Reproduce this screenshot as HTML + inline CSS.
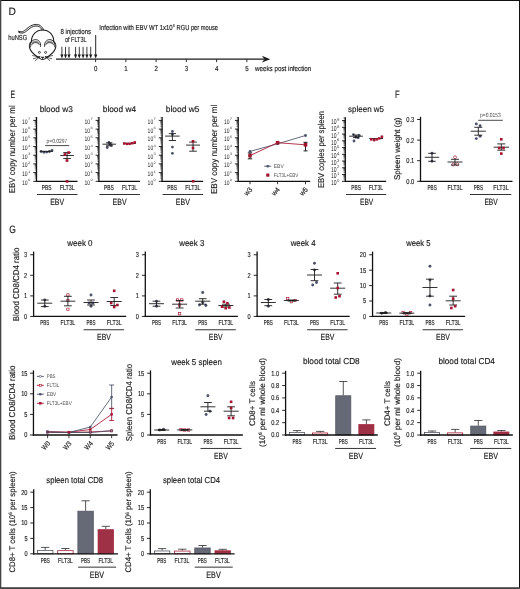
<!DOCTYPE html>
<html><head><meta charset="utf-8"><title>Figure</title>
<style>html,body{margin:0;padding:0;background:#fff}svg{display:block}text{font-family:'Liberation Sans', sans-serif;text-rendering:geometricPrecision}</style>
</head><body>
<svg width="520" height="589" viewBox="0 0 520 589">
<rect x="0" y="0" width="520" height="589" fill="#ffffff"/>
<rect x="0" y="0" width="520" height="1" fill="#111"/>
<rect x="519" y="0" width="1" height="589" fill="#111"/>
<rect x="0" y="0" width="1.3" height="589" fill="#444"/>
<rect x="0" y="587.2" width="520" height="1.8" fill="#444"/>
<text x="8.6" y="15" font-size="10.71" fill="#1c1c1c" stroke="#1c1c1c" stroke-width="0.16" textLength="7.4" lengthAdjust="spacingAndGlyphs">D</text>
<text x="10.6" y="98" font-size="10.71" fill="#1c1c1c" stroke="#1c1c1c" stroke-width="0.16" textLength="4.6" lengthAdjust="spacingAndGlyphs">E</text>
<text x="395" y="98" font-size="10.71" fill="#1c1c1c" stroke="#1c1c1c" stroke-width="0.16" textLength="4.6" lengthAdjust="spacingAndGlyphs">F</text>
<text x="9.2" y="233.2" font-size="10.71" fill="#1c1c1c" stroke="#1c1c1c" stroke-width="0.16" textLength="6.6" lengthAdjust="spacingAndGlyphs">G</text>
<line x1="56" y1="59.2" x2="264" y2="59.2" stroke="#1a1a1a" stroke-width="1.2" stroke-linecap="butt"/>
<path d="M270.2 59.2 L261.9 55.8 L264.4 59.2 L261.9 62.6 Z" fill="#1a1a1a"/>
<line x1="95.6" y1="59.2" x2="95.6" y2="62.1" stroke="#1a1a1a" stroke-width="0.9" stroke-linecap="butt"/>
<text x="93.9" y="70.9" font-size="7.28" fill="#1c1c1c" stroke="#1c1c1c" stroke-width="0.16" textLength="3.4" lengthAdjust="spacingAndGlyphs">0</text>
<line x1="125.85" y1="59.2" x2="125.85" y2="62.1" stroke="#1a1a1a" stroke-width="0.9" stroke-linecap="butt"/>
<text x="124.15" y="70.9" font-size="7.28" fill="#1c1c1c" stroke="#1c1c1c" stroke-width="0.16" textLength="3.4" lengthAdjust="spacingAndGlyphs">1</text>
<line x1="156.1" y1="59.2" x2="156.1" y2="62.1" stroke="#1a1a1a" stroke-width="0.9" stroke-linecap="butt"/>
<text x="154.4" y="70.9" font-size="7.28" fill="#1c1c1c" stroke="#1c1c1c" stroke-width="0.16" textLength="3.4" lengthAdjust="spacingAndGlyphs">2</text>
<line x1="186.35" y1="59.2" x2="186.35" y2="62.1" stroke="#1a1a1a" stroke-width="0.9" stroke-linecap="butt"/>
<text x="184.65" y="70.9" font-size="7.28" fill="#1c1c1c" stroke="#1c1c1c" stroke-width="0.16" textLength="3.4" lengthAdjust="spacingAndGlyphs">3</text>
<line x1="216.6" y1="59.2" x2="216.6" y2="62.1" stroke="#1a1a1a" stroke-width="0.9" stroke-linecap="butt"/>
<text x="214.9" y="70.9" font-size="7.28" fill="#1c1c1c" stroke="#1c1c1c" stroke-width="0.16" textLength="3.4" lengthAdjust="spacingAndGlyphs">4</text>
<line x1="246.85" y1="59.2" x2="246.85" y2="62.1" stroke="#1a1a1a" stroke-width="0.9" stroke-linecap="butt"/>
<text x="245.15" y="70.9" font-size="7.28" fill="#1c1c1c" stroke="#1c1c1c" stroke-width="0.16" textLength="3.4" lengthAdjust="spacingAndGlyphs">5</text>
<text x="255" y="70.8" font-size="7.28" fill="#1c1c1c" stroke="#1c1c1c" stroke-width="0.16" textLength="56.3" lengthAdjust="spacingAndGlyphs">weeks post infection</text>
<line x1="61.9" y1="46.8" x2="61.9" y2="55.1" stroke="#1a1a1a" stroke-width="0.85" stroke-linecap="butt"/>
<path d="M60.3 54.6 L63.5 54.6 L61.9 58.6 Z" fill="#1a1a1a"/>
<line x1="65.5" y1="46.8" x2="65.5" y2="55.1" stroke="#1a1a1a" stroke-width="0.85" stroke-linecap="butt"/>
<path d="M63.9 54.6 L67.1 54.6 L65.5 58.6 Z" fill="#1a1a1a"/>
<line x1="69" y1="46.8" x2="69" y2="55.1" stroke="#1a1a1a" stroke-width="0.85" stroke-linecap="butt"/>
<path d="M67.4 54.6 L70.6 54.6 L69 58.6 Z" fill="#1a1a1a"/>
<line x1="75.6" y1="46.8" x2="75.6" y2="55.1" stroke="#1a1a1a" stroke-width="0.85" stroke-linecap="butt"/>
<path d="M74 54.6 L77.2 54.6 L75.6 58.6 Z" fill="#1a1a1a"/>
<line x1="79.3" y1="46.8" x2="79.3" y2="55.1" stroke="#1a1a1a" stroke-width="0.85" stroke-linecap="butt"/>
<path d="M77.7 54.6 L80.9 54.6 L79.3 58.6 Z" fill="#1a1a1a"/>
<line x1="83.1" y1="46.8" x2="83.1" y2="55.1" stroke="#1a1a1a" stroke-width="0.85" stroke-linecap="butt"/>
<path d="M81.5 54.6 L84.7 54.6 L83.1 58.6 Z" fill="#1a1a1a"/>
<line x1="86.9" y1="46.8" x2="86.9" y2="55.1" stroke="#1a1a1a" stroke-width="0.85" stroke-linecap="butt"/>
<path d="M85.3 54.6 L88.5 54.6 L86.9 58.6 Z" fill="#1a1a1a"/>
<line x1="90.7" y1="46.8" x2="90.7" y2="55.1" stroke="#1a1a1a" stroke-width="0.85" stroke-linecap="butt"/>
<path d="M89.1 54.6 L92.3 54.6 L90.7 58.6 Z" fill="#1a1a1a"/>
<line x1="95.7" y1="35" x2="95.7" y2="54.9" stroke="#1a1a1a" stroke-width="0.95" stroke-linecap="butt"/>
<path d="M94 54.4 L97.4 54.4 L95.7 58.6 Z" fill="#1a1a1a"/>
<text x="60.4" y="33.9" font-size="7.28" fill="#1c1c1c" stroke="#1c1c1c" stroke-width="0.16" textLength="30.8" lengthAdjust="spacingAndGlyphs">8 injections</text>
<text x="65" y="41.7" font-size="7.28" fill="#1c1c1c" stroke="#1c1c1c" stroke-width="0.16" textLength="21.6" lengthAdjust="spacingAndGlyphs">of FLT3L</text>
<text x="99.3" y="30.2" font-size="7.28" fill="#1c1c1c" stroke="#1c1c1c" stroke-width="0.16" textLength="73.3" lengthAdjust="spacingAndGlyphs">Infection with EBV WT 1x10</text>
<text x="172.9" y="27.4" font-size="3.74" fill="#444" stroke="#444" stroke-width="0.16" textLength="1.8" lengthAdjust="spacingAndGlyphs">5</text>
<text x="176.6" y="30.2" font-size="7.28" fill="#1c1c1c" stroke="#1c1c1c" stroke-width="0.16" textLength="41.4" lengthAdjust="spacingAndGlyphs">RGU per mouse</text>
<text x="8.2" y="40" font-size="7.28" fill="#1c1c1c" stroke="#1c1c1c" stroke-width="0.16" textLength="19" lengthAdjust="spacingAndGlyphs">huNSG</text>
<g fill="none" stroke="#1a1a1a" stroke-width="1.05" stroke-linecap="round" stroke-linejoin="round">
<path d="M18.9 31.3 C22.3 33.2 25 30.2 28.2 27.6 C31.5 24.9 35.6 23.7 38.8 24.8 C41 25.6 42.6 27.5 43.5 29.8" stroke-width="0.95"/>
<path d="M19.2 32.5 C23.2 34.5 26 31.5 29.1 28.9 C32 26.5 35.4 25.4 38.1 26.2 C40 26.8 41.3 28.2 42.1 30" stroke-width="0.95"/>
<path d="M18.9 31.3 L19.2 32.7" stroke-width="0.9"/>
<path d="M31.4 41.8 C31.4 34.6 36.4 29.9 42.6 29.9 C48.8 29.9 53.8 34.6 53.8 41.8" />
<path d="M31.6 41.4 C29.3 42.8 28.8 46.2 30 49 C31.6 52.8 36.4 56.4 40.5 58.9 C41.8 59.7 43.4 59.7 44.7 58.9 C48.8 56.4 53.6 52.8 55.2 49 C56.4 46.2 55.9 42.8 53.6 41.4"/>
<path d="M30.3 47 C29.6 42.6 32.4 39.6 35.5 39.6 C38.8 39.6 41 42.4 40.6 46.4" stroke-width="0.95"/>
<path d="M44.6 46.4 C44.2 42.4 46.4 39.6 49.7 39.6 C52.8 39.6 55.6 42.6 54.9 47" stroke-width="0.95"/>
</g>
<path d="M31.2 45.6 C31.2 42.6 33.2 40.8 35.5 40.8 C37.9 40.8 39.7 42.6 39.7 45.2 C38.9 43.6 37.4 42.7 35.6 42.7 C33.7 42.7 32.1 43.8 31.2 45.6 Z" fill="#8e8e8e"/>
<path d="M54 45.6 C54 42.6 52 40.8 49.7 40.8 C47.3 40.8 45.5 42.6 45.5 45.2 C46.3 43.6 47.8 42.7 49.6 42.7 C51.5 42.7 53.1 43.8 54 45.6 Z" fill="#8e8e8e"/>
<path d="M31.2 45.6 C32.1 43.8 33.7 42.7 35.6 42.7 C37.4 42.7 38.9 43.6 39.7 45.2" fill="none" stroke="#1a1a1a" stroke-width="0.6"/>
<path d="M54 45.6 C53.1 43.8 51.5 42.7 49.6 42.7 C47.8 42.7 46.3 43.6 45.5 45.2" fill="none" stroke="#1a1a1a" stroke-width="0.6"/>
<circle cx="39.4" cy="52.4" r="1.0" fill="#fff" stroke="#1a1a1a" stroke-width="0.8"/>
<circle cx="45.6" cy="52.4" r="1.0" fill="#fff" stroke="#1a1a1a" stroke-width="0.8"/>
<path d="M40.6 56.7 L44.6 56.7 L42.6 59.1 Z" fill="#1a1a1a"/>
<g stroke="#1a1a1a" stroke-width="0.7" stroke-linecap="round">
<line x1="39.8" y1="56.8" x2="32.6" y2="55.6"/>
<line x1="45.4" y1="56.8" x2="52.6" y2="55.6"/>
<line x1="39.8" y1="56.8" x2="33.4" y2="58.8"/>
<line x1="45.4" y1="56.8" x2="51.8" y2="58.8"/>
<line x1="39.8" y1="56.8" x2="35.4" y2="60.6"/>
<line x1="45.4" y1="56.8" x2="49.8" y2="60.6"/>
</g>
<text transform="translate(14.9 193.2) rotate(-90)" font-size="8.63" fill="#1c1c1c" stroke="#1c1c1c" stroke-width="0.16" textLength="87.9" lengthAdjust="spacingAndGlyphs">EBV copy number per ml</text>
<line x1="36.5" y1="117" x2="36.5" y2="181.95" stroke="#111" stroke-width="1.3" stroke-linecap="butt"/>
<line x1="33.2" y1="181.3" x2="36.5" y2="181.3" stroke="#111" stroke-width="0.9" stroke-linecap="butt"/>
<text x="22" y="184.8" font-size="6.6" fill="#222" textLength="5.6" lengthAdjust="spacingAndGlyphs">10</text>
<text x="28" y="181.3" font-size="3.4" fill="#3a3a3a" textLength="2.3" lengthAdjust="spacingAndGlyphs">0</text>
<line x1="34.7" y1="178.68" x2="36.5" y2="178.68" stroke="#222" stroke-width="0.45" stroke-linecap="butt"/>
<line x1="34.7" y1="177.15" x2="36.5" y2="177.15" stroke="#222" stroke-width="0.45" stroke-linecap="butt"/>
<line x1="34.7" y1="176.06" x2="36.5" y2="176.06" stroke="#222" stroke-width="0.45" stroke-linecap="butt"/>
<line x1="34.7" y1="175.22" x2="36.5" y2="175.22" stroke="#222" stroke-width="0.45" stroke-linecap="butt"/>
<line x1="34.7" y1="174.53" x2="36.5" y2="174.53" stroke="#222" stroke-width="0.45" stroke-linecap="butt"/>
<line x1="34.7" y1="173.95" x2="36.5" y2="173.95" stroke="#222" stroke-width="0.45" stroke-linecap="butt"/>
<line x1="34.7" y1="173.44" x2="36.5" y2="173.44" stroke="#222" stroke-width="0.45" stroke-linecap="butt"/>
<line x1="34.7" y1="173" x2="36.5" y2="173" stroke="#222" stroke-width="0.45" stroke-linecap="butt"/>
<line x1="33.2" y1="172.6" x2="36.5" y2="172.6" stroke="#111" stroke-width="0.9" stroke-linecap="butt"/>
<text x="22" y="176.1" font-size="6.6" fill="#222" textLength="5.6" lengthAdjust="spacingAndGlyphs">10</text>
<text x="28" y="172.6" font-size="3.4" fill="#3a3a3a" textLength="2.3" lengthAdjust="spacingAndGlyphs">1</text>
<line x1="34.7" y1="169.98" x2="36.5" y2="169.98" stroke="#222" stroke-width="0.45" stroke-linecap="butt"/>
<line x1="34.7" y1="168.45" x2="36.5" y2="168.45" stroke="#222" stroke-width="0.45" stroke-linecap="butt"/>
<line x1="34.7" y1="167.36" x2="36.5" y2="167.36" stroke="#222" stroke-width="0.45" stroke-linecap="butt"/>
<line x1="34.7" y1="166.52" x2="36.5" y2="166.52" stroke="#222" stroke-width="0.45" stroke-linecap="butt"/>
<line x1="34.7" y1="165.83" x2="36.5" y2="165.83" stroke="#222" stroke-width="0.45" stroke-linecap="butt"/>
<line x1="34.7" y1="165.25" x2="36.5" y2="165.25" stroke="#222" stroke-width="0.45" stroke-linecap="butt"/>
<line x1="34.7" y1="164.74" x2="36.5" y2="164.74" stroke="#222" stroke-width="0.45" stroke-linecap="butt"/>
<line x1="34.7" y1="164.3" x2="36.5" y2="164.3" stroke="#222" stroke-width="0.45" stroke-linecap="butt"/>
<line x1="33.2" y1="163.9" x2="36.5" y2="163.9" stroke="#111" stroke-width="0.9" stroke-linecap="butt"/>
<text x="22" y="167.4" font-size="6.6" fill="#222" textLength="5.6" lengthAdjust="spacingAndGlyphs">10</text>
<text x="28" y="163.9" font-size="3.4" fill="#3a3a3a" textLength="2.3" lengthAdjust="spacingAndGlyphs">2</text>
<line x1="34.7" y1="161.28" x2="36.5" y2="161.28" stroke="#222" stroke-width="0.45" stroke-linecap="butt"/>
<line x1="34.7" y1="159.75" x2="36.5" y2="159.75" stroke="#222" stroke-width="0.45" stroke-linecap="butt"/>
<line x1="34.7" y1="158.66" x2="36.5" y2="158.66" stroke="#222" stroke-width="0.45" stroke-linecap="butt"/>
<line x1="34.7" y1="157.82" x2="36.5" y2="157.82" stroke="#222" stroke-width="0.45" stroke-linecap="butt"/>
<line x1="34.7" y1="157.13" x2="36.5" y2="157.13" stroke="#222" stroke-width="0.45" stroke-linecap="butt"/>
<line x1="34.7" y1="156.55" x2="36.5" y2="156.55" stroke="#222" stroke-width="0.45" stroke-linecap="butt"/>
<line x1="34.7" y1="156.04" x2="36.5" y2="156.04" stroke="#222" stroke-width="0.45" stroke-linecap="butt"/>
<line x1="34.7" y1="155.6" x2="36.5" y2="155.6" stroke="#222" stroke-width="0.45" stroke-linecap="butt"/>
<line x1="33.2" y1="155.2" x2="36.5" y2="155.2" stroke="#111" stroke-width="0.9" stroke-linecap="butt"/>
<text x="22" y="158.7" font-size="6.6" fill="#222" textLength="5.6" lengthAdjust="spacingAndGlyphs">10</text>
<text x="28" y="155.2" font-size="3.4" fill="#3a3a3a" textLength="2.3" lengthAdjust="spacingAndGlyphs">3</text>
<line x1="34.7" y1="152.58" x2="36.5" y2="152.58" stroke="#222" stroke-width="0.45" stroke-linecap="butt"/>
<line x1="34.7" y1="151.05" x2="36.5" y2="151.05" stroke="#222" stroke-width="0.45" stroke-linecap="butt"/>
<line x1="34.7" y1="149.96" x2="36.5" y2="149.96" stroke="#222" stroke-width="0.45" stroke-linecap="butt"/>
<line x1="34.7" y1="149.12" x2="36.5" y2="149.12" stroke="#222" stroke-width="0.45" stroke-linecap="butt"/>
<line x1="34.7" y1="148.43" x2="36.5" y2="148.43" stroke="#222" stroke-width="0.45" stroke-linecap="butt"/>
<line x1="34.7" y1="147.85" x2="36.5" y2="147.85" stroke="#222" stroke-width="0.45" stroke-linecap="butt"/>
<line x1="34.7" y1="147.34" x2="36.5" y2="147.34" stroke="#222" stroke-width="0.45" stroke-linecap="butt"/>
<line x1="34.7" y1="146.9" x2="36.5" y2="146.9" stroke="#222" stroke-width="0.45" stroke-linecap="butt"/>
<line x1="33.2" y1="146.5" x2="36.5" y2="146.5" stroke="#111" stroke-width="0.9" stroke-linecap="butt"/>
<text x="22" y="150" font-size="6.6" fill="#222" textLength="5.6" lengthAdjust="spacingAndGlyphs">10</text>
<text x="28" y="146.5" font-size="3.4" fill="#3a3a3a" textLength="2.3" lengthAdjust="spacingAndGlyphs">4</text>
<line x1="34.7" y1="143.88" x2="36.5" y2="143.88" stroke="#222" stroke-width="0.45" stroke-linecap="butt"/>
<line x1="34.7" y1="142.35" x2="36.5" y2="142.35" stroke="#222" stroke-width="0.45" stroke-linecap="butt"/>
<line x1="34.7" y1="141.26" x2="36.5" y2="141.26" stroke="#222" stroke-width="0.45" stroke-linecap="butt"/>
<line x1="34.7" y1="140.42" x2="36.5" y2="140.42" stroke="#222" stroke-width="0.45" stroke-linecap="butt"/>
<line x1="34.7" y1="139.73" x2="36.5" y2="139.73" stroke="#222" stroke-width="0.45" stroke-linecap="butt"/>
<line x1="34.7" y1="139.15" x2="36.5" y2="139.15" stroke="#222" stroke-width="0.45" stroke-linecap="butt"/>
<line x1="34.7" y1="138.64" x2="36.5" y2="138.64" stroke="#222" stroke-width="0.45" stroke-linecap="butt"/>
<line x1="34.7" y1="138.2" x2="36.5" y2="138.2" stroke="#222" stroke-width="0.45" stroke-linecap="butt"/>
<line x1="33.2" y1="137.8" x2="36.5" y2="137.8" stroke="#111" stroke-width="0.9" stroke-linecap="butt"/>
<text x="22" y="141.3" font-size="6.6" fill="#222" textLength="5.6" lengthAdjust="spacingAndGlyphs">10</text>
<text x="28" y="137.8" font-size="3.4" fill="#3a3a3a" textLength="2.3" lengthAdjust="spacingAndGlyphs">5</text>
<line x1="34.7" y1="135.18" x2="36.5" y2="135.18" stroke="#222" stroke-width="0.45" stroke-linecap="butt"/>
<line x1="34.7" y1="133.65" x2="36.5" y2="133.65" stroke="#222" stroke-width="0.45" stroke-linecap="butt"/>
<line x1="34.7" y1="132.56" x2="36.5" y2="132.56" stroke="#222" stroke-width="0.45" stroke-linecap="butt"/>
<line x1="34.7" y1="131.72" x2="36.5" y2="131.72" stroke="#222" stroke-width="0.45" stroke-linecap="butt"/>
<line x1="34.7" y1="131.03" x2="36.5" y2="131.03" stroke="#222" stroke-width="0.45" stroke-linecap="butt"/>
<line x1="34.7" y1="130.45" x2="36.5" y2="130.45" stroke="#222" stroke-width="0.45" stroke-linecap="butt"/>
<line x1="34.7" y1="129.94" x2="36.5" y2="129.94" stroke="#222" stroke-width="0.45" stroke-linecap="butt"/>
<line x1="34.7" y1="129.5" x2="36.5" y2="129.5" stroke="#222" stroke-width="0.45" stroke-linecap="butt"/>
<line x1="33.2" y1="129.1" x2="36.5" y2="129.1" stroke="#111" stroke-width="0.9" stroke-linecap="butt"/>
<text x="22" y="132.6" font-size="6.6" fill="#222" textLength="5.6" lengthAdjust="spacingAndGlyphs">10</text>
<text x="28" y="129.1" font-size="3.4" fill="#3a3a3a" textLength="2.3" lengthAdjust="spacingAndGlyphs">6</text>
<line x1="34.7" y1="126.48" x2="36.5" y2="126.48" stroke="#222" stroke-width="0.45" stroke-linecap="butt"/>
<line x1="34.7" y1="124.95" x2="36.5" y2="124.95" stroke="#222" stroke-width="0.45" stroke-linecap="butt"/>
<line x1="34.7" y1="123.86" x2="36.5" y2="123.86" stroke="#222" stroke-width="0.45" stroke-linecap="butt"/>
<line x1="34.7" y1="123.02" x2="36.5" y2="123.02" stroke="#222" stroke-width="0.45" stroke-linecap="butt"/>
<line x1="34.7" y1="122.33" x2="36.5" y2="122.33" stroke="#222" stroke-width="0.45" stroke-linecap="butt"/>
<line x1="34.7" y1="121.75" x2="36.5" y2="121.75" stroke="#222" stroke-width="0.45" stroke-linecap="butt"/>
<line x1="34.7" y1="121.24" x2="36.5" y2="121.24" stroke="#222" stroke-width="0.45" stroke-linecap="butt"/>
<line x1="34.7" y1="120.8" x2="36.5" y2="120.8" stroke="#222" stroke-width="0.45" stroke-linecap="butt"/>
<line x1="33.2" y1="120.4" x2="36.5" y2="120.4" stroke="#111" stroke-width="0.9" stroke-linecap="butt"/>
<text x="22" y="123.9" font-size="6.6" fill="#222" textLength="5.6" lengthAdjust="spacingAndGlyphs">10</text>
<text x="28" y="120.4" font-size="3.4" fill="#3a3a3a" textLength="2.3" lengthAdjust="spacingAndGlyphs">7</text>
<line x1="34.7" y1="117.78" x2="36.5" y2="117.78" stroke="#222" stroke-width="0.45" stroke-linecap="butt"/>
<line x1="35.85" y1="181.3" x2="77.5" y2="181.3" stroke="#111" stroke-width="1.3" stroke-linecap="butt"/>
<text x="39.7" y="111.5" font-size="8.53" fill="#1c1c1c" stroke="#1c1c1c" stroke-width="0.16" textLength="33.1" lengthAdjust="spacingAndGlyphs">blood w3</text>
<text x="41.7" y="189.8" font-size="7.18" fill="#1c1c1c" stroke="#1c1c1c" stroke-width="0.16" textLength="9.7" lengthAdjust="spacingAndGlyphs">PBS</text>
<text x="59.7" y="189.8" font-size="7.18" fill="#1c1c1c" stroke="#1c1c1c" stroke-width="0.16" textLength="15.1" lengthAdjust="spacingAndGlyphs">FLT3L</text>
<line x1="37" y1="194.5" x2="77.5" y2="194.5" stroke="#1c1c1c" stroke-width="0.9" stroke-linecap="butt"/>
<text x="50.2" y="205.4" font-size="8.94" fill="#1c1c1c" stroke="#1c1c1c" stroke-width="0.16" textLength="14" lengthAdjust="spacingAndGlyphs">EBV</text>
<circle cx="41.1" cy="151.5" r="1.45" fill="#4a5169"/>
<circle cx="44" cy="152.3" r="1.45" fill="#4a5169"/>
<circle cx="46.7" cy="152.1" r="1.45" fill="#4a5169"/>
<circle cx="49.4" cy="151.5" r="1.45" fill="#4a5169"/>
<circle cx="52" cy="150.4" r="1.45" fill="#4a5169"/>
<line x1="39.9" y1="151.4" x2="53" y2="151.4" stroke="#1c1c1c" stroke-width="0.9" stroke-linecap="butt"/>
<line x1="60.3" y1="155.5" x2="73.9" y2="155.5" stroke="#1c1c1c" stroke-width="0.9" stroke-linecap="butt"/>
<line x1="63.3" y1="152.6" x2="70.9" y2="152.6" stroke="#1c1c1c" stroke-width="0.9" stroke-linecap="butt"/>
<line x1="63.3" y1="158.5" x2="70.9" y2="158.5" stroke="#1c1c1c" stroke-width="0.9" stroke-linecap="butt"/>
<line x1="67.1" y1="152.6" x2="67.1" y2="158.5" stroke="#1c1c1c" stroke-width="0.9" stroke-linecap="butt"/>
<rect x="63.55" y="153.15" width="2.7" height="2.7" fill="#a5132f"/>
<rect x="67.35" y="151.25" width="2.7" height="2.7" fill="#a5132f"/>
<rect x="65.65" y="159.15" width="2.7" height="2.7" fill="#a5132f"/>
<rect x="65.75" y="179.95" width="2.7" height="2.7" fill="#a5132f"/>
<line x1="45.2" y1="145.6" x2="69.3" y2="145.6" stroke="#2a2a2a" stroke-width="0.85" stroke-linecap="butt"/>
<text x="46.6" y="143.2" font-size="6" fill="#4a4a4a" textLength="20.7" lengthAdjust="spacingAndGlyphs">p=0.0297</text>
<line x1="98.9" y1="117" x2="98.9" y2="181.95" stroke="#111" stroke-width="1.3" stroke-linecap="butt"/>
<line x1="95.6" y1="181.3" x2="98.9" y2="181.3" stroke="#111" stroke-width="0.9" stroke-linecap="butt"/>
<text x="84.4" y="184.8" font-size="6.6" fill="#222" textLength="5.6" lengthAdjust="spacingAndGlyphs">10</text>
<text x="90.4" y="181.3" font-size="3.4" fill="#3a3a3a" textLength="2.3" lengthAdjust="spacingAndGlyphs">0</text>
<line x1="97.1" y1="178.68" x2="98.9" y2="178.68" stroke="#222" stroke-width="0.45" stroke-linecap="butt"/>
<line x1="97.1" y1="177.15" x2="98.9" y2="177.15" stroke="#222" stroke-width="0.45" stroke-linecap="butt"/>
<line x1="97.1" y1="176.06" x2="98.9" y2="176.06" stroke="#222" stroke-width="0.45" stroke-linecap="butt"/>
<line x1="97.1" y1="175.22" x2="98.9" y2="175.22" stroke="#222" stroke-width="0.45" stroke-linecap="butt"/>
<line x1="97.1" y1="174.53" x2="98.9" y2="174.53" stroke="#222" stroke-width="0.45" stroke-linecap="butt"/>
<line x1="97.1" y1="173.95" x2="98.9" y2="173.95" stroke="#222" stroke-width="0.45" stroke-linecap="butt"/>
<line x1="97.1" y1="173.44" x2="98.9" y2="173.44" stroke="#222" stroke-width="0.45" stroke-linecap="butt"/>
<line x1="97.1" y1="173" x2="98.9" y2="173" stroke="#222" stroke-width="0.45" stroke-linecap="butt"/>
<line x1="95.6" y1="172.6" x2="98.9" y2="172.6" stroke="#111" stroke-width="0.9" stroke-linecap="butt"/>
<text x="84.4" y="176.1" font-size="6.6" fill="#222" textLength="5.6" lengthAdjust="spacingAndGlyphs">10</text>
<text x="90.4" y="172.6" font-size="3.4" fill="#3a3a3a" textLength="2.3" lengthAdjust="spacingAndGlyphs">1</text>
<line x1="97.1" y1="169.98" x2="98.9" y2="169.98" stroke="#222" stroke-width="0.45" stroke-linecap="butt"/>
<line x1="97.1" y1="168.45" x2="98.9" y2="168.45" stroke="#222" stroke-width="0.45" stroke-linecap="butt"/>
<line x1="97.1" y1="167.36" x2="98.9" y2="167.36" stroke="#222" stroke-width="0.45" stroke-linecap="butt"/>
<line x1="97.1" y1="166.52" x2="98.9" y2="166.52" stroke="#222" stroke-width="0.45" stroke-linecap="butt"/>
<line x1="97.1" y1="165.83" x2="98.9" y2="165.83" stroke="#222" stroke-width="0.45" stroke-linecap="butt"/>
<line x1="97.1" y1="165.25" x2="98.9" y2="165.25" stroke="#222" stroke-width="0.45" stroke-linecap="butt"/>
<line x1="97.1" y1="164.74" x2="98.9" y2="164.74" stroke="#222" stroke-width="0.45" stroke-linecap="butt"/>
<line x1="97.1" y1="164.3" x2="98.9" y2="164.3" stroke="#222" stroke-width="0.45" stroke-linecap="butt"/>
<line x1="95.6" y1="163.9" x2="98.9" y2="163.9" stroke="#111" stroke-width="0.9" stroke-linecap="butt"/>
<text x="84.4" y="167.4" font-size="6.6" fill="#222" textLength="5.6" lengthAdjust="spacingAndGlyphs">10</text>
<text x="90.4" y="163.9" font-size="3.4" fill="#3a3a3a" textLength="2.3" lengthAdjust="spacingAndGlyphs">2</text>
<line x1="97.1" y1="161.28" x2="98.9" y2="161.28" stroke="#222" stroke-width="0.45" stroke-linecap="butt"/>
<line x1="97.1" y1="159.75" x2="98.9" y2="159.75" stroke="#222" stroke-width="0.45" stroke-linecap="butt"/>
<line x1="97.1" y1="158.66" x2="98.9" y2="158.66" stroke="#222" stroke-width="0.45" stroke-linecap="butt"/>
<line x1="97.1" y1="157.82" x2="98.9" y2="157.82" stroke="#222" stroke-width="0.45" stroke-linecap="butt"/>
<line x1="97.1" y1="157.13" x2="98.9" y2="157.13" stroke="#222" stroke-width="0.45" stroke-linecap="butt"/>
<line x1="97.1" y1="156.55" x2="98.9" y2="156.55" stroke="#222" stroke-width="0.45" stroke-linecap="butt"/>
<line x1="97.1" y1="156.04" x2="98.9" y2="156.04" stroke="#222" stroke-width="0.45" stroke-linecap="butt"/>
<line x1="97.1" y1="155.6" x2="98.9" y2="155.6" stroke="#222" stroke-width="0.45" stroke-linecap="butt"/>
<line x1="95.6" y1="155.2" x2="98.9" y2="155.2" stroke="#111" stroke-width="0.9" stroke-linecap="butt"/>
<text x="84.4" y="158.7" font-size="6.6" fill="#222" textLength="5.6" lengthAdjust="spacingAndGlyphs">10</text>
<text x="90.4" y="155.2" font-size="3.4" fill="#3a3a3a" textLength="2.3" lengthAdjust="spacingAndGlyphs">3</text>
<line x1="97.1" y1="152.58" x2="98.9" y2="152.58" stroke="#222" stroke-width="0.45" stroke-linecap="butt"/>
<line x1="97.1" y1="151.05" x2="98.9" y2="151.05" stroke="#222" stroke-width="0.45" stroke-linecap="butt"/>
<line x1="97.1" y1="149.96" x2="98.9" y2="149.96" stroke="#222" stroke-width="0.45" stroke-linecap="butt"/>
<line x1="97.1" y1="149.12" x2="98.9" y2="149.12" stroke="#222" stroke-width="0.45" stroke-linecap="butt"/>
<line x1="97.1" y1="148.43" x2="98.9" y2="148.43" stroke="#222" stroke-width="0.45" stroke-linecap="butt"/>
<line x1="97.1" y1="147.85" x2="98.9" y2="147.85" stroke="#222" stroke-width="0.45" stroke-linecap="butt"/>
<line x1="97.1" y1="147.34" x2="98.9" y2="147.34" stroke="#222" stroke-width="0.45" stroke-linecap="butt"/>
<line x1="97.1" y1="146.9" x2="98.9" y2="146.9" stroke="#222" stroke-width="0.45" stroke-linecap="butt"/>
<line x1="95.6" y1="146.5" x2="98.9" y2="146.5" stroke="#111" stroke-width="0.9" stroke-linecap="butt"/>
<text x="84.4" y="150" font-size="6.6" fill="#222" textLength="5.6" lengthAdjust="spacingAndGlyphs">10</text>
<text x="90.4" y="146.5" font-size="3.4" fill="#3a3a3a" textLength="2.3" lengthAdjust="spacingAndGlyphs">4</text>
<line x1="97.1" y1="143.88" x2="98.9" y2="143.88" stroke="#222" stroke-width="0.45" stroke-linecap="butt"/>
<line x1="97.1" y1="142.35" x2="98.9" y2="142.35" stroke="#222" stroke-width="0.45" stroke-linecap="butt"/>
<line x1="97.1" y1="141.26" x2="98.9" y2="141.26" stroke="#222" stroke-width="0.45" stroke-linecap="butt"/>
<line x1="97.1" y1="140.42" x2="98.9" y2="140.42" stroke="#222" stroke-width="0.45" stroke-linecap="butt"/>
<line x1="97.1" y1="139.73" x2="98.9" y2="139.73" stroke="#222" stroke-width="0.45" stroke-linecap="butt"/>
<line x1="97.1" y1="139.15" x2="98.9" y2="139.15" stroke="#222" stroke-width="0.45" stroke-linecap="butt"/>
<line x1="97.1" y1="138.64" x2="98.9" y2="138.64" stroke="#222" stroke-width="0.45" stroke-linecap="butt"/>
<line x1="97.1" y1="138.2" x2="98.9" y2="138.2" stroke="#222" stroke-width="0.45" stroke-linecap="butt"/>
<line x1="95.6" y1="137.8" x2="98.9" y2="137.8" stroke="#111" stroke-width="0.9" stroke-linecap="butt"/>
<text x="84.4" y="141.3" font-size="6.6" fill="#222" textLength="5.6" lengthAdjust="spacingAndGlyphs">10</text>
<text x="90.4" y="137.8" font-size="3.4" fill="#3a3a3a" textLength="2.3" lengthAdjust="spacingAndGlyphs">5</text>
<line x1="97.1" y1="135.18" x2="98.9" y2="135.18" stroke="#222" stroke-width="0.45" stroke-linecap="butt"/>
<line x1="97.1" y1="133.65" x2="98.9" y2="133.65" stroke="#222" stroke-width="0.45" stroke-linecap="butt"/>
<line x1="97.1" y1="132.56" x2="98.9" y2="132.56" stroke="#222" stroke-width="0.45" stroke-linecap="butt"/>
<line x1="97.1" y1="131.72" x2="98.9" y2="131.72" stroke="#222" stroke-width="0.45" stroke-linecap="butt"/>
<line x1="97.1" y1="131.03" x2="98.9" y2="131.03" stroke="#222" stroke-width="0.45" stroke-linecap="butt"/>
<line x1="97.1" y1="130.45" x2="98.9" y2="130.45" stroke="#222" stroke-width="0.45" stroke-linecap="butt"/>
<line x1="97.1" y1="129.94" x2="98.9" y2="129.94" stroke="#222" stroke-width="0.45" stroke-linecap="butt"/>
<line x1="97.1" y1="129.5" x2="98.9" y2="129.5" stroke="#222" stroke-width="0.45" stroke-linecap="butt"/>
<line x1="95.6" y1="129.1" x2="98.9" y2="129.1" stroke="#111" stroke-width="0.9" stroke-linecap="butt"/>
<text x="84.4" y="132.6" font-size="6.6" fill="#222" textLength="5.6" lengthAdjust="spacingAndGlyphs">10</text>
<text x="90.4" y="129.1" font-size="3.4" fill="#3a3a3a" textLength="2.3" lengthAdjust="spacingAndGlyphs">6</text>
<line x1="97.1" y1="126.48" x2="98.9" y2="126.48" stroke="#222" stroke-width="0.45" stroke-linecap="butt"/>
<line x1="97.1" y1="124.95" x2="98.9" y2="124.95" stroke="#222" stroke-width="0.45" stroke-linecap="butt"/>
<line x1="97.1" y1="123.86" x2="98.9" y2="123.86" stroke="#222" stroke-width="0.45" stroke-linecap="butt"/>
<line x1="97.1" y1="123.02" x2="98.9" y2="123.02" stroke="#222" stroke-width="0.45" stroke-linecap="butt"/>
<line x1="97.1" y1="122.33" x2="98.9" y2="122.33" stroke="#222" stroke-width="0.45" stroke-linecap="butt"/>
<line x1="97.1" y1="121.75" x2="98.9" y2="121.75" stroke="#222" stroke-width="0.45" stroke-linecap="butt"/>
<line x1="97.1" y1="121.24" x2="98.9" y2="121.24" stroke="#222" stroke-width="0.45" stroke-linecap="butt"/>
<line x1="97.1" y1="120.8" x2="98.9" y2="120.8" stroke="#222" stroke-width="0.45" stroke-linecap="butt"/>
<line x1="95.6" y1="120.4" x2="98.9" y2="120.4" stroke="#111" stroke-width="0.9" stroke-linecap="butt"/>
<text x="84.4" y="123.9" font-size="6.6" fill="#222" textLength="5.6" lengthAdjust="spacingAndGlyphs">10</text>
<text x="90.4" y="120.4" font-size="3.4" fill="#3a3a3a" textLength="2.3" lengthAdjust="spacingAndGlyphs">7</text>
<line x1="97.1" y1="117.78" x2="98.9" y2="117.78" stroke="#222" stroke-width="0.45" stroke-linecap="butt"/>
<line x1="98.25" y1="181.3" x2="139.9" y2="181.3" stroke="#111" stroke-width="1.3" stroke-linecap="butt"/>
<text x="102.8" y="111.5" font-size="8.53" fill="#1c1c1c" stroke="#1c1c1c" stroke-width="0.16" textLength="33.2" lengthAdjust="spacingAndGlyphs">blood w4</text>
<text x="104.1" y="189.8" font-size="7.18" fill="#1c1c1c" stroke="#1c1c1c" stroke-width="0.16" textLength="9.7" lengthAdjust="spacingAndGlyphs">PBS</text>
<text x="122.1" y="189.8" font-size="7.18" fill="#1c1c1c" stroke="#1c1c1c" stroke-width="0.16" textLength="15.1" lengthAdjust="spacingAndGlyphs">FLT3L</text>
<line x1="99.4" y1="194.5" x2="139.9" y2="194.5" stroke="#1c1c1c" stroke-width="0.9" stroke-linecap="butt"/>
<text x="112.6" y="205.4" font-size="8.94" fill="#1c1c1c" stroke="#1c1c1c" stroke-width="0.16" textLength="14" lengthAdjust="spacingAndGlyphs">EBV</text>
<circle cx="108.9" cy="142.4" r="1.4" fill="#4a5169"/>
<circle cx="107.2" cy="147.5" r="1.4" fill="#4a5169"/>
<circle cx="111.4" cy="145.5" r="1.4" fill="#4a5169"/>
<circle cx="110.2" cy="143.8" r="1.4" fill="#4a5169"/>
<line x1="102.4" y1="144.2" x2="116" y2="144.2" stroke="#1c1c1c" stroke-width="0.9" stroke-linecap="butt"/>
<line x1="106" y1="142.8" x2="112.4" y2="142.8" stroke="#1c1c1c" stroke-width="0.9" stroke-linecap="butt"/>
<line x1="106" y1="145.8" x2="112.4" y2="145.8" stroke="#1c1c1c" stroke-width="0.9" stroke-linecap="butt"/>
<line x1="109.2" y1="142.8" x2="109.2" y2="145.8" stroke="#1c1c1c" stroke-width="0.9" stroke-linecap="butt"/>
<line x1="123" y1="143.3" x2="136" y2="143.3" stroke="#1c1c1c" stroke-width="0.9" stroke-linecap="butt"/>
<rect x="122.95" y="142.25" width="2.5" height="2.5" fill="#a5132f"/>
<rect x="125.65" y="142.65" width="2.5" height="2.5" fill="#a5132f"/>
<rect x="128.35" y="142.55" width="2.5" height="2.5" fill="#a5132f"/>
<rect x="131.05" y="141.95" width="2.5" height="2.5" fill="#a5132f"/>
<rect x="133.55" y="141.15" width="2.5" height="2.5" fill="#a5132f"/>
<line x1="162.1" y1="117" x2="162.1" y2="181.95" stroke="#111" stroke-width="1.3" stroke-linecap="butt"/>
<line x1="158.8" y1="181.3" x2="162.1" y2="181.3" stroke="#111" stroke-width="0.9" stroke-linecap="butt"/>
<text x="147.6" y="184.8" font-size="6.6" fill="#222" textLength="5.6" lengthAdjust="spacingAndGlyphs">10</text>
<text x="153.6" y="181.3" font-size="3.4" fill="#3a3a3a" textLength="2.3" lengthAdjust="spacingAndGlyphs">0</text>
<line x1="160.3" y1="178.68" x2="162.1" y2="178.68" stroke="#222" stroke-width="0.45" stroke-linecap="butt"/>
<line x1="160.3" y1="177.15" x2="162.1" y2="177.15" stroke="#222" stroke-width="0.45" stroke-linecap="butt"/>
<line x1="160.3" y1="176.06" x2="162.1" y2="176.06" stroke="#222" stroke-width="0.45" stroke-linecap="butt"/>
<line x1="160.3" y1="175.22" x2="162.1" y2="175.22" stroke="#222" stroke-width="0.45" stroke-linecap="butt"/>
<line x1="160.3" y1="174.53" x2="162.1" y2="174.53" stroke="#222" stroke-width="0.45" stroke-linecap="butt"/>
<line x1="160.3" y1="173.95" x2="162.1" y2="173.95" stroke="#222" stroke-width="0.45" stroke-linecap="butt"/>
<line x1="160.3" y1="173.44" x2="162.1" y2="173.44" stroke="#222" stroke-width="0.45" stroke-linecap="butt"/>
<line x1="160.3" y1="173" x2="162.1" y2="173" stroke="#222" stroke-width="0.45" stroke-linecap="butt"/>
<line x1="158.8" y1="172.6" x2="162.1" y2="172.6" stroke="#111" stroke-width="0.9" stroke-linecap="butt"/>
<text x="147.6" y="176.1" font-size="6.6" fill="#222" textLength="5.6" lengthAdjust="spacingAndGlyphs">10</text>
<text x="153.6" y="172.6" font-size="3.4" fill="#3a3a3a" textLength="2.3" lengthAdjust="spacingAndGlyphs">1</text>
<line x1="160.3" y1="169.98" x2="162.1" y2="169.98" stroke="#222" stroke-width="0.45" stroke-linecap="butt"/>
<line x1="160.3" y1="168.45" x2="162.1" y2="168.45" stroke="#222" stroke-width="0.45" stroke-linecap="butt"/>
<line x1="160.3" y1="167.36" x2="162.1" y2="167.36" stroke="#222" stroke-width="0.45" stroke-linecap="butt"/>
<line x1="160.3" y1="166.52" x2="162.1" y2="166.52" stroke="#222" stroke-width="0.45" stroke-linecap="butt"/>
<line x1="160.3" y1="165.83" x2="162.1" y2="165.83" stroke="#222" stroke-width="0.45" stroke-linecap="butt"/>
<line x1="160.3" y1="165.25" x2="162.1" y2="165.25" stroke="#222" stroke-width="0.45" stroke-linecap="butt"/>
<line x1="160.3" y1="164.74" x2="162.1" y2="164.74" stroke="#222" stroke-width="0.45" stroke-linecap="butt"/>
<line x1="160.3" y1="164.3" x2="162.1" y2="164.3" stroke="#222" stroke-width="0.45" stroke-linecap="butt"/>
<line x1="158.8" y1="163.9" x2="162.1" y2="163.9" stroke="#111" stroke-width="0.9" stroke-linecap="butt"/>
<text x="147.6" y="167.4" font-size="6.6" fill="#222" textLength="5.6" lengthAdjust="spacingAndGlyphs">10</text>
<text x="153.6" y="163.9" font-size="3.4" fill="#3a3a3a" textLength="2.3" lengthAdjust="spacingAndGlyphs">2</text>
<line x1="160.3" y1="161.28" x2="162.1" y2="161.28" stroke="#222" stroke-width="0.45" stroke-linecap="butt"/>
<line x1="160.3" y1="159.75" x2="162.1" y2="159.75" stroke="#222" stroke-width="0.45" stroke-linecap="butt"/>
<line x1="160.3" y1="158.66" x2="162.1" y2="158.66" stroke="#222" stroke-width="0.45" stroke-linecap="butt"/>
<line x1="160.3" y1="157.82" x2="162.1" y2="157.82" stroke="#222" stroke-width="0.45" stroke-linecap="butt"/>
<line x1="160.3" y1="157.13" x2="162.1" y2="157.13" stroke="#222" stroke-width="0.45" stroke-linecap="butt"/>
<line x1="160.3" y1="156.55" x2="162.1" y2="156.55" stroke="#222" stroke-width="0.45" stroke-linecap="butt"/>
<line x1="160.3" y1="156.04" x2="162.1" y2="156.04" stroke="#222" stroke-width="0.45" stroke-linecap="butt"/>
<line x1="160.3" y1="155.6" x2="162.1" y2="155.6" stroke="#222" stroke-width="0.45" stroke-linecap="butt"/>
<line x1="158.8" y1="155.2" x2="162.1" y2="155.2" stroke="#111" stroke-width="0.9" stroke-linecap="butt"/>
<text x="147.6" y="158.7" font-size="6.6" fill="#222" textLength="5.6" lengthAdjust="spacingAndGlyphs">10</text>
<text x="153.6" y="155.2" font-size="3.4" fill="#3a3a3a" textLength="2.3" lengthAdjust="spacingAndGlyphs">3</text>
<line x1="160.3" y1="152.58" x2="162.1" y2="152.58" stroke="#222" stroke-width="0.45" stroke-linecap="butt"/>
<line x1="160.3" y1="151.05" x2="162.1" y2="151.05" stroke="#222" stroke-width="0.45" stroke-linecap="butt"/>
<line x1="160.3" y1="149.96" x2="162.1" y2="149.96" stroke="#222" stroke-width="0.45" stroke-linecap="butt"/>
<line x1="160.3" y1="149.12" x2="162.1" y2="149.12" stroke="#222" stroke-width="0.45" stroke-linecap="butt"/>
<line x1="160.3" y1="148.43" x2="162.1" y2="148.43" stroke="#222" stroke-width="0.45" stroke-linecap="butt"/>
<line x1="160.3" y1="147.85" x2="162.1" y2="147.85" stroke="#222" stroke-width="0.45" stroke-linecap="butt"/>
<line x1="160.3" y1="147.34" x2="162.1" y2="147.34" stroke="#222" stroke-width="0.45" stroke-linecap="butt"/>
<line x1="160.3" y1="146.9" x2="162.1" y2="146.9" stroke="#222" stroke-width="0.45" stroke-linecap="butt"/>
<line x1="158.8" y1="146.5" x2="162.1" y2="146.5" stroke="#111" stroke-width="0.9" stroke-linecap="butt"/>
<text x="147.6" y="150" font-size="6.6" fill="#222" textLength="5.6" lengthAdjust="spacingAndGlyphs">10</text>
<text x="153.6" y="146.5" font-size="3.4" fill="#3a3a3a" textLength="2.3" lengthAdjust="spacingAndGlyphs">4</text>
<line x1="160.3" y1="143.88" x2="162.1" y2="143.88" stroke="#222" stroke-width="0.45" stroke-linecap="butt"/>
<line x1="160.3" y1="142.35" x2="162.1" y2="142.35" stroke="#222" stroke-width="0.45" stroke-linecap="butt"/>
<line x1="160.3" y1="141.26" x2="162.1" y2="141.26" stroke="#222" stroke-width="0.45" stroke-linecap="butt"/>
<line x1="160.3" y1="140.42" x2="162.1" y2="140.42" stroke="#222" stroke-width="0.45" stroke-linecap="butt"/>
<line x1="160.3" y1="139.73" x2="162.1" y2="139.73" stroke="#222" stroke-width="0.45" stroke-linecap="butt"/>
<line x1="160.3" y1="139.15" x2="162.1" y2="139.15" stroke="#222" stroke-width="0.45" stroke-linecap="butt"/>
<line x1="160.3" y1="138.64" x2="162.1" y2="138.64" stroke="#222" stroke-width="0.45" stroke-linecap="butt"/>
<line x1="160.3" y1="138.2" x2="162.1" y2="138.2" stroke="#222" stroke-width="0.45" stroke-linecap="butt"/>
<line x1="158.8" y1="137.8" x2="162.1" y2="137.8" stroke="#111" stroke-width="0.9" stroke-linecap="butt"/>
<text x="147.6" y="141.3" font-size="6.6" fill="#222" textLength="5.6" lengthAdjust="spacingAndGlyphs">10</text>
<text x="153.6" y="137.8" font-size="3.4" fill="#3a3a3a" textLength="2.3" lengthAdjust="spacingAndGlyphs">5</text>
<line x1="160.3" y1="135.18" x2="162.1" y2="135.18" stroke="#222" stroke-width="0.45" stroke-linecap="butt"/>
<line x1="160.3" y1="133.65" x2="162.1" y2="133.65" stroke="#222" stroke-width="0.45" stroke-linecap="butt"/>
<line x1="160.3" y1="132.56" x2="162.1" y2="132.56" stroke="#222" stroke-width="0.45" stroke-linecap="butt"/>
<line x1="160.3" y1="131.72" x2="162.1" y2="131.72" stroke="#222" stroke-width="0.45" stroke-linecap="butt"/>
<line x1="160.3" y1="131.03" x2="162.1" y2="131.03" stroke="#222" stroke-width="0.45" stroke-linecap="butt"/>
<line x1="160.3" y1="130.45" x2="162.1" y2="130.45" stroke="#222" stroke-width="0.45" stroke-linecap="butt"/>
<line x1="160.3" y1="129.94" x2="162.1" y2="129.94" stroke="#222" stroke-width="0.45" stroke-linecap="butt"/>
<line x1="160.3" y1="129.5" x2="162.1" y2="129.5" stroke="#222" stroke-width="0.45" stroke-linecap="butt"/>
<line x1="158.8" y1="129.1" x2="162.1" y2="129.1" stroke="#111" stroke-width="0.9" stroke-linecap="butt"/>
<text x="147.6" y="132.6" font-size="6.6" fill="#222" textLength="5.6" lengthAdjust="spacingAndGlyphs">10</text>
<text x="153.6" y="129.1" font-size="3.4" fill="#3a3a3a" textLength="2.3" lengthAdjust="spacingAndGlyphs">6</text>
<line x1="160.3" y1="126.48" x2="162.1" y2="126.48" stroke="#222" stroke-width="0.45" stroke-linecap="butt"/>
<line x1="160.3" y1="124.95" x2="162.1" y2="124.95" stroke="#222" stroke-width="0.45" stroke-linecap="butt"/>
<line x1="160.3" y1="123.86" x2="162.1" y2="123.86" stroke="#222" stroke-width="0.45" stroke-linecap="butt"/>
<line x1="160.3" y1="123.02" x2="162.1" y2="123.02" stroke="#222" stroke-width="0.45" stroke-linecap="butt"/>
<line x1="160.3" y1="122.33" x2="162.1" y2="122.33" stroke="#222" stroke-width="0.45" stroke-linecap="butt"/>
<line x1="160.3" y1="121.75" x2="162.1" y2="121.75" stroke="#222" stroke-width="0.45" stroke-linecap="butt"/>
<line x1="160.3" y1="121.24" x2="162.1" y2="121.24" stroke="#222" stroke-width="0.45" stroke-linecap="butt"/>
<line x1="160.3" y1="120.8" x2="162.1" y2="120.8" stroke="#222" stroke-width="0.45" stroke-linecap="butt"/>
<line x1="158.8" y1="120.4" x2="162.1" y2="120.4" stroke="#111" stroke-width="0.9" stroke-linecap="butt"/>
<text x="147.6" y="123.9" font-size="6.6" fill="#222" textLength="5.6" lengthAdjust="spacingAndGlyphs">10</text>
<text x="153.6" y="120.4" font-size="3.4" fill="#3a3a3a" textLength="2.3" lengthAdjust="spacingAndGlyphs">7</text>
<line x1="160.3" y1="117.78" x2="162.1" y2="117.78" stroke="#222" stroke-width="0.45" stroke-linecap="butt"/>
<line x1="161.45" y1="181.3" x2="203.1" y2="181.3" stroke="#111" stroke-width="1.3" stroke-linecap="butt"/>
<text x="165.8" y="111.5" font-size="8.53" fill="#1c1c1c" stroke="#1c1c1c" stroke-width="0.16" textLength="33.7" lengthAdjust="spacingAndGlyphs">blood w5</text>
<text x="167.3" y="189.8" font-size="7.18" fill="#1c1c1c" stroke="#1c1c1c" stroke-width="0.16" textLength="9.7" lengthAdjust="spacingAndGlyphs">PBS</text>
<text x="185.3" y="189.8" font-size="7.18" fill="#1c1c1c" stroke="#1c1c1c" stroke-width="0.16" textLength="15.1" lengthAdjust="spacingAndGlyphs">FLT3L</text>
<line x1="162.6" y1="194.5" x2="203.1" y2="194.5" stroke="#1c1c1c" stroke-width="0.9" stroke-linecap="butt"/>
<text x="175.8" y="205.4" font-size="8.94" fill="#1c1c1c" stroke="#1c1c1c" stroke-width="0.16" textLength="14" lengthAdjust="spacingAndGlyphs">EBV</text>
<circle cx="172.4" cy="131.5" r="1.4" fill="#4a5169"/>
<circle cx="172.4" cy="134.6" r="1.4" fill="#4a5169"/>
<circle cx="172.4" cy="147.1" r="1.4" fill="#4a5169"/>
<circle cx="172.4" cy="153.3" r="1.4" fill="#4a5169"/>
<line x1="165.1" y1="136.1" x2="179.7" y2="136.1" stroke="#1c1c1c" stroke-width="0.9" stroke-linecap="butt"/>
<line x1="168.8" y1="133.6" x2="176" y2="133.6" stroke="#1c1c1c" stroke-width="0.9" stroke-linecap="butt"/>
<line x1="168.8" y1="140.5" x2="176" y2="140.5" stroke="#1c1c1c" stroke-width="0.9" stroke-linecap="butt"/>
<line x1="172.4" y1="133.6" x2="172.4" y2="140.5" stroke="#1c1c1c" stroke-width="0.9" stroke-linecap="butt"/>
<line x1="186" y1="145.1" x2="200" y2="145.1" stroke="#1c1c1c" stroke-width="0.9" stroke-linecap="butt"/>
<line x1="189.2" y1="142.1" x2="196.8" y2="142.1" stroke="#1c1c1c" stroke-width="0.9" stroke-linecap="butt"/>
<line x1="189.2" y1="151.2" x2="196.8" y2="151.2" stroke="#1c1c1c" stroke-width="0.9" stroke-linecap="butt"/>
<line x1="193" y1="142.1" x2="193" y2="151.2" stroke="#1c1c1c" stroke-width="0.9" stroke-linecap="butt"/>
<rect x="191.7" y="140" width="2.6" height="2.6" fill="#a5132f"/>
<rect x="191.7" y="146.7" width="2.6" height="2.6" fill="#a5132f"/>
<rect x="191.8" y="180" width="2.6" height="2.6" fill="#a5132f"/>
<text transform="translate(216.9 194.1) rotate(-90)" font-size="8.63" fill="#1c1c1c" stroke="#1c1c1c" stroke-width="0.16" textLength="89.4" lengthAdjust="spacingAndGlyphs">EBV copy number per ml</text>
<line x1="238.2" y1="117" x2="238.2" y2="181.95" stroke="#111" stroke-width="1.3" stroke-linecap="butt"/>
<line x1="234.9" y1="181.3" x2="238.2" y2="181.3" stroke="#111" stroke-width="0.9" stroke-linecap="butt"/>
<text x="223.9" y="184.8" font-size="6.6" fill="#222" textLength="5.5" lengthAdjust="spacingAndGlyphs">10</text>
<text x="229.7" y="181.3" font-size="3.4" fill="#3a3a3a" textLength="2.3" lengthAdjust="spacingAndGlyphs">0</text>
<line x1="236.4" y1="178.68" x2="238.2" y2="178.68" stroke="#222" stroke-width="0.45" stroke-linecap="butt"/>
<line x1="236.4" y1="177.15" x2="238.2" y2="177.15" stroke="#222" stroke-width="0.45" stroke-linecap="butt"/>
<line x1="236.4" y1="176.06" x2="238.2" y2="176.06" stroke="#222" stroke-width="0.45" stroke-linecap="butt"/>
<line x1="236.4" y1="175.22" x2="238.2" y2="175.22" stroke="#222" stroke-width="0.45" stroke-linecap="butt"/>
<line x1="236.4" y1="174.53" x2="238.2" y2="174.53" stroke="#222" stroke-width="0.45" stroke-linecap="butt"/>
<line x1="236.4" y1="173.95" x2="238.2" y2="173.95" stroke="#222" stroke-width="0.45" stroke-linecap="butt"/>
<line x1="236.4" y1="173.44" x2="238.2" y2="173.44" stroke="#222" stroke-width="0.45" stroke-linecap="butt"/>
<line x1="236.4" y1="173" x2="238.2" y2="173" stroke="#222" stroke-width="0.45" stroke-linecap="butt"/>
<line x1="234.9" y1="172.6" x2="238.2" y2="172.6" stroke="#111" stroke-width="0.9" stroke-linecap="butt"/>
<text x="223.9" y="176.1" font-size="6.6" fill="#222" textLength="5.5" lengthAdjust="spacingAndGlyphs">10</text>
<text x="229.7" y="172.6" font-size="3.4" fill="#3a3a3a" textLength="2.3" lengthAdjust="spacingAndGlyphs">1</text>
<line x1="236.4" y1="169.98" x2="238.2" y2="169.98" stroke="#222" stroke-width="0.45" stroke-linecap="butt"/>
<line x1="236.4" y1="168.45" x2="238.2" y2="168.45" stroke="#222" stroke-width="0.45" stroke-linecap="butt"/>
<line x1="236.4" y1="167.36" x2="238.2" y2="167.36" stroke="#222" stroke-width="0.45" stroke-linecap="butt"/>
<line x1="236.4" y1="166.52" x2="238.2" y2="166.52" stroke="#222" stroke-width="0.45" stroke-linecap="butt"/>
<line x1="236.4" y1="165.83" x2="238.2" y2="165.83" stroke="#222" stroke-width="0.45" stroke-linecap="butt"/>
<line x1="236.4" y1="165.25" x2="238.2" y2="165.25" stroke="#222" stroke-width="0.45" stroke-linecap="butt"/>
<line x1="236.4" y1="164.74" x2="238.2" y2="164.74" stroke="#222" stroke-width="0.45" stroke-linecap="butt"/>
<line x1="236.4" y1="164.3" x2="238.2" y2="164.3" stroke="#222" stroke-width="0.45" stroke-linecap="butt"/>
<line x1="234.9" y1="163.9" x2="238.2" y2="163.9" stroke="#111" stroke-width="0.9" stroke-linecap="butt"/>
<text x="223.9" y="167.4" font-size="6.6" fill="#222" textLength="5.5" lengthAdjust="spacingAndGlyphs">10</text>
<text x="229.7" y="163.9" font-size="3.4" fill="#3a3a3a" textLength="2.3" lengthAdjust="spacingAndGlyphs">2</text>
<line x1="236.4" y1="161.28" x2="238.2" y2="161.28" stroke="#222" stroke-width="0.45" stroke-linecap="butt"/>
<line x1="236.4" y1="159.75" x2="238.2" y2="159.75" stroke="#222" stroke-width="0.45" stroke-linecap="butt"/>
<line x1="236.4" y1="158.66" x2="238.2" y2="158.66" stroke="#222" stroke-width="0.45" stroke-linecap="butt"/>
<line x1="236.4" y1="157.82" x2="238.2" y2="157.82" stroke="#222" stroke-width="0.45" stroke-linecap="butt"/>
<line x1="236.4" y1="157.13" x2="238.2" y2="157.13" stroke="#222" stroke-width="0.45" stroke-linecap="butt"/>
<line x1="236.4" y1="156.55" x2="238.2" y2="156.55" stroke="#222" stroke-width="0.45" stroke-linecap="butt"/>
<line x1="236.4" y1="156.04" x2="238.2" y2="156.04" stroke="#222" stroke-width="0.45" stroke-linecap="butt"/>
<line x1="236.4" y1="155.6" x2="238.2" y2="155.6" stroke="#222" stroke-width="0.45" stroke-linecap="butt"/>
<line x1="234.9" y1="155.2" x2="238.2" y2="155.2" stroke="#111" stroke-width="0.9" stroke-linecap="butt"/>
<text x="223.9" y="158.7" font-size="6.6" fill="#222" textLength="5.5" lengthAdjust="spacingAndGlyphs">10</text>
<text x="229.7" y="155.2" font-size="3.4" fill="#3a3a3a" textLength="2.3" lengthAdjust="spacingAndGlyphs">3</text>
<line x1="236.4" y1="152.58" x2="238.2" y2="152.58" stroke="#222" stroke-width="0.45" stroke-linecap="butt"/>
<line x1="236.4" y1="151.05" x2="238.2" y2="151.05" stroke="#222" stroke-width="0.45" stroke-linecap="butt"/>
<line x1="236.4" y1="149.96" x2="238.2" y2="149.96" stroke="#222" stroke-width="0.45" stroke-linecap="butt"/>
<line x1="236.4" y1="149.12" x2="238.2" y2="149.12" stroke="#222" stroke-width="0.45" stroke-linecap="butt"/>
<line x1="236.4" y1="148.43" x2="238.2" y2="148.43" stroke="#222" stroke-width="0.45" stroke-linecap="butt"/>
<line x1="236.4" y1="147.85" x2="238.2" y2="147.85" stroke="#222" stroke-width="0.45" stroke-linecap="butt"/>
<line x1="236.4" y1="147.34" x2="238.2" y2="147.34" stroke="#222" stroke-width="0.45" stroke-linecap="butt"/>
<line x1="236.4" y1="146.9" x2="238.2" y2="146.9" stroke="#222" stroke-width="0.45" stroke-linecap="butt"/>
<line x1="234.9" y1="146.5" x2="238.2" y2="146.5" stroke="#111" stroke-width="0.9" stroke-linecap="butt"/>
<text x="223.9" y="150" font-size="6.6" fill="#222" textLength="5.5" lengthAdjust="spacingAndGlyphs">10</text>
<text x="229.7" y="146.5" font-size="3.4" fill="#3a3a3a" textLength="2.3" lengthAdjust="spacingAndGlyphs">4</text>
<line x1="236.4" y1="143.88" x2="238.2" y2="143.88" stroke="#222" stroke-width="0.45" stroke-linecap="butt"/>
<line x1="236.4" y1="142.35" x2="238.2" y2="142.35" stroke="#222" stroke-width="0.45" stroke-linecap="butt"/>
<line x1="236.4" y1="141.26" x2="238.2" y2="141.26" stroke="#222" stroke-width="0.45" stroke-linecap="butt"/>
<line x1="236.4" y1="140.42" x2="238.2" y2="140.42" stroke="#222" stroke-width="0.45" stroke-linecap="butt"/>
<line x1="236.4" y1="139.73" x2="238.2" y2="139.73" stroke="#222" stroke-width="0.45" stroke-linecap="butt"/>
<line x1="236.4" y1="139.15" x2="238.2" y2="139.15" stroke="#222" stroke-width="0.45" stroke-linecap="butt"/>
<line x1="236.4" y1="138.64" x2="238.2" y2="138.64" stroke="#222" stroke-width="0.45" stroke-linecap="butt"/>
<line x1="236.4" y1="138.2" x2="238.2" y2="138.2" stroke="#222" stroke-width="0.45" stroke-linecap="butt"/>
<line x1="234.9" y1="137.8" x2="238.2" y2="137.8" stroke="#111" stroke-width="0.9" stroke-linecap="butt"/>
<text x="223.9" y="141.3" font-size="6.6" fill="#222" textLength="5.5" lengthAdjust="spacingAndGlyphs">10</text>
<text x="229.7" y="137.8" font-size="3.4" fill="#3a3a3a" textLength="2.3" lengthAdjust="spacingAndGlyphs">5</text>
<line x1="236.4" y1="135.18" x2="238.2" y2="135.18" stroke="#222" stroke-width="0.45" stroke-linecap="butt"/>
<line x1="236.4" y1="133.65" x2="238.2" y2="133.65" stroke="#222" stroke-width="0.45" stroke-linecap="butt"/>
<line x1="236.4" y1="132.56" x2="238.2" y2="132.56" stroke="#222" stroke-width="0.45" stroke-linecap="butt"/>
<line x1="236.4" y1="131.72" x2="238.2" y2="131.72" stroke="#222" stroke-width="0.45" stroke-linecap="butt"/>
<line x1="236.4" y1="131.03" x2="238.2" y2="131.03" stroke="#222" stroke-width="0.45" stroke-linecap="butt"/>
<line x1="236.4" y1="130.45" x2="238.2" y2="130.45" stroke="#222" stroke-width="0.45" stroke-linecap="butt"/>
<line x1="236.4" y1="129.94" x2="238.2" y2="129.94" stroke="#222" stroke-width="0.45" stroke-linecap="butt"/>
<line x1="236.4" y1="129.5" x2="238.2" y2="129.5" stroke="#222" stroke-width="0.45" stroke-linecap="butt"/>
<line x1="234.9" y1="129.1" x2="238.2" y2="129.1" stroke="#111" stroke-width="0.9" stroke-linecap="butt"/>
<text x="223.9" y="132.6" font-size="6.6" fill="#222" textLength="5.5" lengthAdjust="spacingAndGlyphs">10</text>
<text x="229.7" y="129.1" font-size="3.4" fill="#3a3a3a" textLength="2.3" lengthAdjust="spacingAndGlyphs">6</text>
<line x1="236.4" y1="126.48" x2="238.2" y2="126.48" stroke="#222" stroke-width="0.45" stroke-linecap="butt"/>
<line x1="236.4" y1="124.95" x2="238.2" y2="124.95" stroke="#222" stroke-width="0.45" stroke-linecap="butt"/>
<line x1="236.4" y1="123.86" x2="238.2" y2="123.86" stroke="#222" stroke-width="0.45" stroke-linecap="butt"/>
<line x1="236.4" y1="123.02" x2="238.2" y2="123.02" stroke="#222" stroke-width="0.45" stroke-linecap="butt"/>
<line x1="236.4" y1="122.33" x2="238.2" y2="122.33" stroke="#222" stroke-width="0.45" stroke-linecap="butt"/>
<line x1="236.4" y1="121.75" x2="238.2" y2="121.75" stroke="#222" stroke-width="0.45" stroke-linecap="butt"/>
<line x1="236.4" y1="121.24" x2="238.2" y2="121.24" stroke="#222" stroke-width="0.45" stroke-linecap="butt"/>
<line x1="236.4" y1="120.8" x2="238.2" y2="120.8" stroke="#222" stroke-width="0.45" stroke-linecap="butt"/>
<line x1="234.9" y1="120.4" x2="238.2" y2="120.4" stroke="#111" stroke-width="0.9" stroke-linecap="butt"/>
<text x="223.9" y="123.9" font-size="6.6" fill="#222" textLength="5.5" lengthAdjust="spacingAndGlyphs">10</text>
<text x="229.7" y="120.4" font-size="3.4" fill="#3a3a3a" textLength="2.3" lengthAdjust="spacingAndGlyphs">7</text>
<line x1="236.4" y1="117.78" x2="238.2" y2="117.78" stroke="#222" stroke-width="0.45" stroke-linecap="butt"/>
<line x1="237.75" y1="181.3" x2="310.2" y2="181.3" stroke="#111" stroke-width="1.3" stroke-linecap="butt"/>
<line x1="250" y1="181.3" x2="250" y2="184.2" stroke="#1c1c1c" stroke-width="0.9" stroke-linecap="butt"/>
<text transform="translate(252.8 189.8) rotate(-48)" text-anchor="end" font-size="7.18" fill="#1c1c1c" stroke="#1c1c1c" stroke-width="0.16" textLength="8.8" lengthAdjust="spacingAndGlyphs">w3</text>
<line x1="277.6" y1="181.3" x2="277.6" y2="184.2" stroke="#1c1c1c" stroke-width="0.9" stroke-linecap="butt"/>
<text transform="translate(280.4 189.8) rotate(-48)" text-anchor="end" font-size="7.18" fill="#1c1c1c" stroke="#1c1c1c" stroke-width="0.16" textLength="8.8" lengthAdjust="spacingAndGlyphs">w4</text>
<line x1="305.5" y1="181.3" x2="305.5" y2="184.2" stroke="#1c1c1c" stroke-width="0.9" stroke-linecap="butt"/>
<text transform="translate(308.3 189.8) rotate(-48)" text-anchor="end" font-size="7.18" fill="#1c1c1c" stroke="#1c1c1c" stroke-width="0.16" textLength="8.8" lengthAdjust="spacingAndGlyphs">w5</text>
<line x1="250" y1="152.9" x2="250" y2="158.8" stroke="#1c1c1c" stroke-width="1" stroke-linecap="butt"/>
<line x1="247.8" y1="152.9" x2="252.2" y2="152.9" stroke="#1c1c1c" stroke-width="1" stroke-linecap="butt"/>
<line x1="247.8" y1="158.8" x2="252.2" y2="158.8" stroke="#1c1c1c" stroke-width="1" stroke-linecap="butt"/>
<line x1="305.5" y1="142.3" x2="305.5" y2="150.9" stroke="#1c1c1c" stroke-width="1" stroke-linecap="butt"/>
<line x1="303.5" y1="142.3" x2="307.5" y2="142.3" stroke="#1c1c1c" stroke-width="1" stroke-linecap="butt"/>
<line x1="303.5" y1="150.9" x2="307.5" y2="150.9" stroke="#1c1c1c" stroke-width="1" stroke-linecap="butt"/>
<polyline points="250,151.4 277.6,143.8 305.5,135.5" fill="none" stroke="#4a5169" stroke-width="0.85"/>
<polyline points="250,155.6 277.6,142.7 305.5,144.8" fill="none" stroke="#a5132f" stroke-width="0.85"/>
<circle cx="250" cy="151.4" r="1.4" fill="#4a5169"/>
<circle cx="277.6" cy="143.8" r="1.4" fill="#4a5169"/>
<circle cx="305.5" cy="135.5" r="1.4" fill="#4a5169"/>
<rect x="248.2" y="153.8" width="3.6" height="3.6" fill="#a0182f"/>
<rect x="275.8" y="140.9" width="3.6" height="3.6" fill="#a0182f"/>
<rect x="303.7" y="143" width="3.6" height="3.6" fill="#a0182f"/>
<line x1="264.2" y1="166.2" x2="271.2" y2="166.2" stroke="#4a5169" stroke-width="0.9" stroke-linecap="butt"/>
<circle cx="267.8" cy="166.2" r="1.3" fill="#4a5169"/>
<text x="273.8" y="168.1" font-size="5.3" fill="#4a4a4a" textLength="9.9" lengthAdjust="spacingAndGlyphs">EBV</text>
<rect x="266.2" y="173.5" width="3.2" height="3.2" fill="#a0182f"/>
<text x="273.8" y="177" font-size="5.3" fill="#4a4a4a" textLength="24.4" lengthAdjust="spacingAndGlyphs">FLT3L+EBV</text>
<text transform="translate(323.6 188.1) rotate(-90)" font-size="8.53" fill="#1c1c1c" stroke="#1c1c1c" stroke-width="0.16" textLength="77.2" lengthAdjust="spacingAndGlyphs">EBV copies per spleen</text>
<line x1="345.3" y1="117.2" x2="345.3" y2="181.95" stroke="#111" stroke-width="1.3" stroke-linecap="butt"/>
<line x1="342" y1="181.3" x2="345.3" y2="181.3" stroke="#111" stroke-width="0.9" stroke-linecap="butt"/>
<text x="331" y="185.1" font-size="7" fill="#222" textLength="5.6" lengthAdjust="spacingAndGlyphs">10</text>
<text x="337.1" y="181.9" font-size="4" fill="#3a3a3a" textLength="2.4" lengthAdjust="spacingAndGlyphs">0</text>
<line x1="343.5" y1="179.27" x2="345.3" y2="179.27" stroke="#222" stroke-width="0.45" stroke-linecap="butt"/>
<line x1="343.5" y1="178.08" x2="345.3" y2="178.08" stroke="#222" stroke-width="0.45" stroke-linecap="butt"/>
<line x1="343.5" y1="177.24" x2="345.3" y2="177.24" stroke="#222" stroke-width="0.45" stroke-linecap="butt"/>
<line x1="343.5" y1="176.58" x2="345.3" y2="176.58" stroke="#222" stroke-width="0.45" stroke-linecap="butt"/>
<line x1="343.5" y1="176.05" x2="345.3" y2="176.05" stroke="#222" stroke-width="0.45" stroke-linecap="butt"/>
<line x1="343.5" y1="175.6" x2="345.3" y2="175.6" stroke="#222" stroke-width="0.45" stroke-linecap="butt"/>
<line x1="343.5" y1="175.2" x2="345.3" y2="175.2" stroke="#222" stroke-width="0.45" stroke-linecap="butt"/>
<line x1="343.5" y1="174.86" x2="345.3" y2="174.86" stroke="#222" stroke-width="0.45" stroke-linecap="butt"/>
<line x1="342" y1="174.55" x2="345.3" y2="174.55" stroke="#111" stroke-width="0.9" stroke-linecap="butt"/>
<text x="331" y="178.35" font-size="7" fill="#222" textLength="5.6" lengthAdjust="spacingAndGlyphs">10</text>
<text x="337.1" y="175.15" font-size="4" fill="#3a3a3a" textLength="2.4" lengthAdjust="spacingAndGlyphs">1</text>
<line x1="343.5" y1="172.52" x2="345.3" y2="172.52" stroke="#222" stroke-width="0.45" stroke-linecap="butt"/>
<line x1="343.5" y1="171.33" x2="345.3" y2="171.33" stroke="#222" stroke-width="0.45" stroke-linecap="butt"/>
<line x1="343.5" y1="170.49" x2="345.3" y2="170.49" stroke="#222" stroke-width="0.45" stroke-linecap="butt"/>
<line x1="343.5" y1="169.83" x2="345.3" y2="169.83" stroke="#222" stroke-width="0.45" stroke-linecap="butt"/>
<line x1="343.5" y1="169.3" x2="345.3" y2="169.3" stroke="#222" stroke-width="0.45" stroke-linecap="butt"/>
<line x1="343.5" y1="168.85" x2="345.3" y2="168.85" stroke="#222" stroke-width="0.45" stroke-linecap="butt"/>
<line x1="343.5" y1="168.45" x2="345.3" y2="168.45" stroke="#222" stroke-width="0.45" stroke-linecap="butt"/>
<line x1="343.5" y1="168.11" x2="345.3" y2="168.11" stroke="#222" stroke-width="0.45" stroke-linecap="butt"/>
<line x1="342" y1="167.8" x2="345.3" y2="167.8" stroke="#111" stroke-width="0.9" stroke-linecap="butt"/>
<text x="331" y="171.6" font-size="7" fill="#222" textLength="5.6" lengthAdjust="spacingAndGlyphs">10</text>
<text x="337.1" y="168.4" font-size="4" fill="#3a3a3a" textLength="2.4" lengthAdjust="spacingAndGlyphs">2</text>
<line x1="343.5" y1="165.77" x2="345.3" y2="165.77" stroke="#222" stroke-width="0.45" stroke-linecap="butt"/>
<line x1="343.5" y1="164.58" x2="345.3" y2="164.58" stroke="#222" stroke-width="0.45" stroke-linecap="butt"/>
<line x1="343.5" y1="163.74" x2="345.3" y2="163.74" stroke="#222" stroke-width="0.45" stroke-linecap="butt"/>
<line x1="343.5" y1="163.08" x2="345.3" y2="163.08" stroke="#222" stroke-width="0.45" stroke-linecap="butt"/>
<line x1="343.5" y1="162.55" x2="345.3" y2="162.55" stroke="#222" stroke-width="0.45" stroke-linecap="butt"/>
<line x1="343.5" y1="162.1" x2="345.3" y2="162.1" stroke="#222" stroke-width="0.45" stroke-linecap="butt"/>
<line x1="343.5" y1="161.7" x2="345.3" y2="161.7" stroke="#222" stroke-width="0.45" stroke-linecap="butt"/>
<line x1="343.5" y1="161.36" x2="345.3" y2="161.36" stroke="#222" stroke-width="0.45" stroke-linecap="butt"/>
<line x1="342" y1="161.05" x2="345.3" y2="161.05" stroke="#111" stroke-width="0.9" stroke-linecap="butt"/>
<text x="331" y="164.85" font-size="7" fill="#222" textLength="5.6" lengthAdjust="spacingAndGlyphs">10</text>
<text x="337.1" y="161.65" font-size="4" fill="#3a3a3a" textLength="2.4" lengthAdjust="spacingAndGlyphs">3</text>
<line x1="343.5" y1="159.02" x2="345.3" y2="159.02" stroke="#222" stroke-width="0.45" stroke-linecap="butt"/>
<line x1="343.5" y1="157.83" x2="345.3" y2="157.83" stroke="#222" stroke-width="0.45" stroke-linecap="butt"/>
<line x1="343.5" y1="156.99" x2="345.3" y2="156.99" stroke="#222" stroke-width="0.45" stroke-linecap="butt"/>
<line x1="343.5" y1="156.33" x2="345.3" y2="156.33" stroke="#222" stroke-width="0.45" stroke-linecap="butt"/>
<line x1="343.5" y1="155.8" x2="345.3" y2="155.8" stroke="#222" stroke-width="0.45" stroke-linecap="butt"/>
<line x1="343.5" y1="155.35" x2="345.3" y2="155.35" stroke="#222" stroke-width="0.45" stroke-linecap="butt"/>
<line x1="343.5" y1="154.95" x2="345.3" y2="154.95" stroke="#222" stroke-width="0.45" stroke-linecap="butt"/>
<line x1="343.5" y1="154.61" x2="345.3" y2="154.61" stroke="#222" stroke-width="0.45" stroke-linecap="butt"/>
<line x1="342" y1="154.3" x2="345.3" y2="154.3" stroke="#111" stroke-width="0.9" stroke-linecap="butt"/>
<text x="331" y="158.1" font-size="7" fill="#222" textLength="5.6" lengthAdjust="spacingAndGlyphs">10</text>
<text x="337.1" y="154.9" font-size="4" fill="#3a3a3a" textLength="2.4" lengthAdjust="spacingAndGlyphs">4</text>
<line x1="343.5" y1="152.27" x2="345.3" y2="152.27" stroke="#222" stroke-width="0.45" stroke-linecap="butt"/>
<line x1="343.5" y1="151.08" x2="345.3" y2="151.08" stroke="#222" stroke-width="0.45" stroke-linecap="butt"/>
<line x1="343.5" y1="150.24" x2="345.3" y2="150.24" stroke="#222" stroke-width="0.45" stroke-linecap="butt"/>
<line x1="343.5" y1="149.58" x2="345.3" y2="149.58" stroke="#222" stroke-width="0.45" stroke-linecap="butt"/>
<line x1="343.5" y1="149.05" x2="345.3" y2="149.05" stroke="#222" stroke-width="0.45" stroke-linecap="butt"/>
<line x1="343.5" y1="148.6" x2="345.3" y2="148.6" stroke="#222" stroke-width="0.45" stroke-linecap="butt"/>
<line x1="343.5" y1="148.2" x2="345.3" y2="148.2" stroke="#222" stroke-width="0.45" stroke-linecap="butt"/>
<line x1="343.5" y1="147.86" x2="345.3" y2="147.86" stroke="#222" stroke-width="0.45" stroke-linecap="butt"/>
<line x1="342" y1="147.55" x2="345.3" y2="147.55" stroke="#111" stroke-width="0.9" stroke-linecap="butt"/>
<text x="331" y="151.35" font-size="7" fill="#222" textLength="5.6" lengthAdjust="spacingAndGlyphs">10</text>
<text x="337.1" y="148.15" font-size="4" fill="#3a3a3a" textLength="2.4" lengthAdjust="spacingAndGlyphs">5</text>
<line x1="343.5" y1="145.52" x2="345.3" y2="145.52" stroke="#222" stroke-width="0.45" stroke-linecap="butt"/>
<line x1="343.5" y1="144.33" x2="345.3" y2="144.33" stroke="#222" stroke-width="0.45" stroke-linecap="butt"/>
<line x1="343.5" y1="143.49" x2="345.3" y2="143.49" stroke="#222" stroke-width="0.45" stroke-linecap="butt"/>
<line x1="343.5" y1="142.83" x2="345.3" y2="142.83" stroke="#222" stroke-width="0.45" stroke-linecap="butt"/>
<line x1="343.5" y1="142.3" x2="345.3" y2="142.3" stroke="#222" stroke-width="0.45" stroke-linecap="butt"/>
<line x1="343.5" y1="141.85" x2="345.3" y2="141.85" stroke="#222" stroke-width="0.45" stroke-linecap="butt"/>
<line x1="343.5" y1="141.45" x2="345.3" y2="141.45" stroke="#222" stroke-width="0.45" stroke-linecap="butt"/>
<line x1="343.5" y1="141.11" x2="345.3" y2="141.11" stroke="#222" stroke-width="0.45" stroke-linecap="butt"/>
<line x1="342" y1="140.8" x2="345.3" y2="140.8" stroke="#111" stroke-width="0.9" stroke-linecap="butt"/>
<text x="331" y="144.6" font-size="7" fill="#222" textLength="5.6" lengthAdjust="spacingAndGlyphs">10</text>
<text x="337.1" y="141.4" font-size="4" fill="#3a3a3a" textLength="2.4" lengthAdjust="spacingAndGlyphs">6</text>
<line x1="343.5" y1="138.77" x2="345.3" y2="138.77" stroke="#222" stroke-width="0.45" stroke-linecap="butt"/>
<line x1="343.5" y1="137.58" x2="345.3" y2="137.58" stroke="#222" stroke-width="0.45" stroke-linecap="butt"/>
<line x1="343.5" y1="136.74" x2="345.3" y2="136.74" stroke="#222" stroke-width="0.45" stroke-linecap="butt"/>
<line x1="343.5" y1="136.08" x2="345.3" y2="136.08" stroke="#222" stroke-width="0.45" stroke-linecap="butt"/>
<line x1="343.5" y1="135.55" x2="345.3" y2="135.55" stroke="#222" stroke-width="0.45" stroke-linecap="butt"/>
<line x1="343.5" y1="135.1" x2="345.3" y2="135.1" stroke="#222" stroke-width="0.45" stroke-linecap="butt"/>
<line x1="343.5" y1="134.7" x2="345.3" y2="134.7" stroke="#222" stroke-width="0.45" stroke-linecap="butt"/>
<line x1="343.5" y1="134.36" x2="345.3" y2="134.36" stroke="#222" stroke-width="0.45" stroke-linecap="butt"/>
<line x1="342" y1="134.05" x2="345.3" y2="134.05" stroke="#111" stroke-width="0.9" stroke-linecap="butt"/>
<text x="331" y="137.85" font-size="7" fill="#222" textLength="5.6" lengthAdjust="spacingAndGlyphs">10</text>
<text x="337.1" y="134.65" font-size="4" fill="#3a3a3a" textLength="2.4" lengthAdjust="spacingAndGlyphs">7</text>
<line x1="343.5" y1="132.02" x2="345.3" y2="132.02" stroke="#222" stroke-width="0.45" stroke-linecap="butt"/>
<line x1="343.5" y1="130.83" x2="345.3" y2="130.83" stroke="#222" stroke-width="0.45" stroke-linecap="butt"/>
<line x1="343.5" y1="129.99" x2="345.3" y2="129.99" stroke="#222" stroke-width="0.45" stroke-linecap="butt"/>
<line x1="343.5" y1="129.33" x2="345.3" y2="129.33" stroke="#222" stroke-width="0.45" stroke-linecap="butt"/>
<line x1="343.5" y1="128.8" x2="345.3" y2="128.8" stroke="#222" stroke-width="0.45" stroke-linecap="butt"/>
<line x1="343.5" y1="128.35" x2="345.3" y2="128.35" stroke="#222" stroke-width="0.45" stroke-linecap="butt"/>
<line x1="343.5" y1="127.95" x2="345.3" y2="127.95" stroke="#222" stroke-width="0.45" stroke-linecap="butt"/>
<line x1="343.5" y1="127.61" x2="345.3" y2="127.61" stroke="#222" stroke-width="0.45" stroke-linecap="butt"/>
<line x1="342" y1="127.3" x2="345.3" y2="127.3" stroke="#111" stroke-width="0.9" stroke-linecap="butt"/>
<text x="331" y="131.1" font-size="7" fill="#222" textLength="5.6" lengthAdjust="spacingAndGlyphs">10</text>
<text x="337.1" y="127.9" font-size="4" fill="#3a3a3a" textLength="2.4" lengthAdjust="spacingAndGlyphs">8</text>
<line x1="343.5" y1="125.27" x2="345.3" y2="125.27" stroke="#222" stroke-width="0.45" stroke-linecap="butt"/>
<line x1="343.5" y1="124.08" x2="345.3" y2="124.08" stroke="#222" stroke-width="0.45" stroke-linecap="butt"/>
<line x1="343.5" y1="123.24" x2="345.3" y2="123.24" stroke="#222" stroke-width="0.45" stroke-linecap="butt"/>
<line x1="343.5" y1="122.58" x2="345.3" y2="122.58" stroke="#222" stroke-width="0.45" stroke-linecap="butt"/>
<line x1="343.5" y1="122.05" x2="345.3" y2="122.05" stroke="#222" stroke-width="0.45" stroke-linecap="butt"/>
<line x1="343.5" y1="121.6" x2="345.3" y2="121.6" stroke="#222" stroke-width="0.45" stroke-linecap="butt"/>
<line x1="343.5" y1="121.2" x2="345.3" y2="121.2" stroke="#222" stroke-width="0.45" stroke-linecap="butt"/>
<line x1="343.5" y1="120.86" x2="345.3" y2="120.86" stroke="#222" stroke-width="0.45" stroke-linecap="butt"/>
<line x1="342" y1="120.55" x2="345.3" y2="120.55" stroke="#111" stroke-width="0.9" stroke-linecap="butt"/>
<text x="331" y="124.35" font-size="7" fill="#222" textLength="5.6" lengthAdjust="spacingAndGlyphs">10</text>
<text x="337.1" y="121.15" font-size="4" fill="#3a3a3a" textLength="2.4" lengthAdjust="spacingAndGlyphs">9</text>
<line x1="343.5" y1="118.52" x2="345.3" y2="118.52" stroke="#222" stroke-width="0.45" stroke-linecap="butt"/>
<line x1="343.5" y1="117.33" x2="345.3" y2="117.33" stroke="#222" stroke-width="0.45" stroke-linecap="butt"/>
<line x1="344.85" y1="181.3" x2="386.2" y2="181.3" stroke="#111" stroke-width="1.3" stroke-linecap="butt"/>
<text x="348.1" y="111.5" font-size="8.53" fill="#1c1c1c" stroke="#1c1c1c" stroke-width="0.16" textLength="35.9" lengthAdjust="spacingAndGlyphs">spleen w5</text>
<text x="351.3" y="189.8" font-size="7.18" fill="#1c1c1c" stroke="#1c1c1c" stroke-width="0.16" textLength="9.6" lengthAdjust="spacingAndGlyphs">PBS</text>
<text x="368.8" y="189.8" font-size="7.18" fill="#1c1c1c" stroke="#1c1c1c" stroke-width="0.16" textLength="14.3" lengthAdjust="spacingAndGlyphs">FLT3L</text>
<line x1="346" y1="194.5" x2="386.2" y2="194.5" stroke="#1c1c1c" stroke-width="0.9" stroke-linecap="butt"/>
<text x="360" y="205.4" font-size="8.94" fill="#1c1c1c" stroke="#1c1c1c" stroke-width="0.16" textLength="13.2" lengthAdjust="spacingAndGlyphs">EBV</text>
<circle cx="353.4" cy="134.6" r="1.4" fill="#4a5169"/>
<circle cx="355.8" cy="137.2" r="1.4" fill="#4a5169"/>
<circle cx="358.2" cy="137.7" r="1.4" fill="#4a5169"/>
<circle cx="354" cy="141" r="1.4" fill="#4a5169"/>
<circle cx="359.2" cy="135.5" r="1.4" fill="#4a5169"/>
<line x1="349.1" y1="136.2" x2="362.9" y2="136.2" stroke="#1c1c1c" stroke-width="0.9" stroke-linecap="butt"/>
<line x1="353" y1="135" x2="359" y2="135" stroke="#1c1c1c" stroke-width="0.9" stroke-linecap="butt"/>
<line x1="353" y1="137.6" x2="359" y2="137.6" stroke="#1c1c1c" stroke-width="0.9" stroke-linecap="butt"/>
<line x1="356" y1="135" x2="356" y2="137.6" stroke="#1c1c1c" stroke-width="0.9" stroke-linecap="butt"/>
<line x1="369.2" y1="138.5" x2="383" y2="138.5" stroke="#1c1c1c" stroke-width="0.9" stroke-linecap="butt"/>
<rect x="370.05" y="138.15" width="2.5" height="2.5" fill="#a5132f"/>
<rect x="372.85" y="138.85" width="2.5" height="2.5" fill="#a5132f"/>
<rect x="375.35" y="138.15" width="2.5" height="2.5" fill="#a5132f"/>
<rect x="377.95" y="137.15" width="2.5" height="2.5" fill="#a5132f"/>
<rect x="380.65" y="135.45" width="2.5" height="2.5" fill="#a5132f"/>
<text transform="translate(399.6 180) rotate(-90)" font-size="8.22" fill="#1c1c1c" stroke="#1c1c1c" stroke-width="0.16" textLength="62.5" lengthAdjust="spacingAndGlyphs">Spleen weight (g)</text>
<line x1="420.5" y1="116.8" x2="420.5" y2="181.95" stroke="#111" stroke-width="1.3" stroke-linecap="butt"/>
<line x1="417.1" y1="119.5" x2="420.5" y2="119.5" stroke="#111" stroke-width="0.9" stroke-linecap="butt"/>
<text x="406.3" y="121.95" font-size="7.18" fill="#1c1c1c" stroke="#1c1c1c" stroke-width="0.16" textLength="8" lengthAdjust="spacingAndGlyphs">0.3</text>
<line x1="417.1" y1="140.1" x2="420.5" y2="140.1" stroke="#111" stroke-width="0.9" stroke-linecap="butt"/>
<text x="406.3" y="142.55" font-size="7.18" fill="#1c1c1c" stroke="#1c1c1c" stroke-width="0.16" textLength="8" lengthAdjust="spacingAndGlyphs">0.2</text>
<line x1="417.1" y1="160.7" x2="420.5" y2="160.7" stroke="#111" stroke-width="0.9" stroke-linecap="butt"/>
<text x="406.3" y="163.15" font-size="7.18" fill="#1c1c1c" stroke="#1c1c1c" stroke-width="0.16" textLength="8" lengthAdjust="spacingAndGlyphs">0.1</text>
<line x1="417.1" y1="181.3" x2="420.5" y2="181.3" stroke="#111" stroke-width="0.9" stroke-linecap="butt"/>
<text x="406.3" y="183.75" font-size="7.18" fill="#1c1c1c" stroke="#1c1c1c" stroke-width="0.16" textLength="8" lengthAdjust="spacingAndGlyphs">0.0</text>
<line x1="419.85" y1="181.3" x2="512.5" y2="181.3" stroke="#111" stroke-width="1.3" stroke-linecap="butt"/>
<circle cx="432" cy="153.3" r="1.45" fill="#4a5169"/>
<circle cx="432" cy="161.3" r="1.45" fill="#4a5169"/>
<line x1="424.8" y1="157.3" x2="439.2" y2="157.3" stroke="#1c1c1c" stroke-width="0.9" stroke-linecap="butt"/>
<line x1="428.2" y1="153.3" x2="435.8" y2="153.3" stroke="#1c1c1c" stroke-width="0.9" stroke-linecap="butt"/>
<line x1="428.2" y1="161.3" x2="435.8" y2="161.3" stroke="#1c1c1c" stroke-width="0.9" stroke-linecap="butt"/>
<line x1="432" y1="153.3" x2="432" y2="161.3" stroke="#1c1c1c" stroke-width="0.9" stroke-linecap="butt"/>
<circle cx="455" cy="157.2" r="1.48" fill="#fff" stroke="#a5132f" stroke-width="0.65"/>
<circle cx="453.3" cy="164.5" r="1.48" fill="#fff" stroke="#a5132f" stroke-width="0.65"/>
<circle cx="457.3" cy="164.3" r="1.48" fill="#fff" stroke="#a5132f" stroke-width="0.65"/>
<line x1="447.5" y1="162" x2="462.5" y2="162" stroke="#1c1c1c" stroke-width="0.9" stroke-linecap="butt"/>
<line x1="451" y1="159.3" x2="459" y2="159.3" stroke="#1c1c1c" stroke-width="0.9" stroke-linecap="butt"/>
<line x1="451" y1="165" x2="459" y2="165" stroke="#1c1c1c" stroke-width="0.9" stroke-linecap="butt"/>
<line x1="455" y1="159.3" x2="455" y2="165" stroke="#1c1c1c" stroke-width="0.9" stroke-linecap="butt"/>
<circle cx="476.3" cy="123.9" r="1.45" fill="#4a5169"/>
<circle cx="480.1" cy="125.7" r="1.45" fill="#4a5169"/>
<circle cx="480.1" cy="136.3" r="1.45" fill="#4a5169"/>
<circle cx="476.3" cy="138.6" r="1.45" fill="#4a5169"/>
<line x1="470.7" y1="131.2" x2="485.9" y2="131.2" stroke="#1c1c1c" stroke-width="0.9" stroke-linecap="butt"/>
<line x1="474.3" y1="127.3" x2="482.3" y2="127.3" stroke="#1c1c1c" stroke-width="0.9" stroke-linecap="butt"/>
<line x1="474.3" y1="135.2" x2="482.3" y2="135.2" stroke="#1c1c1c" stroke-width="0.9" stroke-linecap="butt"/>
<line x1="478.3" y1="127.3" x2="478.3" y2="135.2" stroke="#1c1c1c" stroke-width="0.9" stroke-linecap="butt"/>
<line x1="493.6" y1="147.2" x2="509" y2="147.2" stroke="#1c1c1c" stroke-width="0.9" stroke-linecap="butt"/>
<line x1="497.3" y1="143.9" x2="505.3" y2="143.9" stroke="#1c1c1c" stroke-width="0.9" stroke-linecap="butt"/>
<line x1="497.3" y1="150.2" x2="505.3" y2="150.2" stroke="#1c1c1c" stroke-width="0.9" stroke-linecap="butt"/>
<line x1="501.3" y1="143.9" x2="501.3" y2="150.2" stroke="#1c1c1c" stroke-width="0.9" stroke-linecap="butt"/>
<rect x="500" y="138" width="2.6" height="2.6" fill="#a5132f"/>
<rect x="498" y="146.7" width="2.6" height="2.6" fill="#a5132f"/>
<rect x="502.2" y="146.7" width="2.6" height="2.6" fill="#a5132f"/>
<rect x="500" y="152.3" width="2.6" height="2.6" fill="#a5132f"/>
<line x1="478.2" y1="120.3" x2="502.8" y2="120.3" stroke="#2a2a2a" stroke-width="0.85" stroke-linecap="butt"/>
<text x="480" y="116.6" font-size="6" fill="#4a4a4a" textLength="20.8" lengthAdjust="spacingAndGlyphs">p=0.0153</text>
<text x="427.5" y="190" font-size="7.18" fill="#1c1c1c" stroke="#1c1c1c" stroke-width="0.16" textLength="9.3" lengthAdjust="spacingAndGlyphs">PBS</text>
<text x="447.5" y="190" font-size="7.18" fill="#1c1c1c" stroke="#1c1c1c" stroke-width="0.16" textLength="15" lengthAdjust="spacingAndGlyphs">FLT3L</text>
<text x="473.8" y="190" font-size="7.18" fill="#1c1c1c" stroke="#1c1c1c" stroke-width="0.16" textLength="9.2" lengthAdjust="spacingAndGlyphs">PBS</text>
<text x="493.3" y="190" font-size="7.18" fill="#1c1c1c" stroke="#1c1c1c" stroke-width="0.16" textLength="15.4" lengthAdjust="spacingAndGlyphs">FLT3L</text>
<line x1="470" y1="194.5" x2="511.3" y2="194.5" stroke="#1c1c1c" stroke-width="0.9" stroke-linecap="butt"/>
<text x="484.4" y="205.4" font-size="8.94" fill="#1c1c1c" stroke="#1c1c1c" stroke-width="0.16" textLength="13.3" lengthAdjust="spacingAndGlyphs">EBV</text>
<text transform="translate(18.5 321.3) rotate(-90)" font-size="8.53" fill="#1c1c1c" stroke="#1c1c1c" stroke-width="0.16" textLength="73.8" lengthAdjust="spacingAndGlyphs">Blood CD8/CD4 ratio</text>
<line x1="33.6" y1="251.6" x2="33.6" y2="317.1" stroke="#111" stroke-width="1.3" stroke-linecap="butt"/>
<line x1="30.2" y1="254.75" x2="33.6" y2="254.75" stroke="#111" stroke-width="0.9" stroke-linecap="butt"/>
<text x="24" y="257.2" font-size="7.18" fill="#1c1c1c" stroke="#1c1c1c" stroke-width="0.16" textLength="3.1" lengthAdjust="spacingAndGlyphs">3</text>
<line x1="30.2" y1="275.3" x2="33.6" y2="275.3" stroke="#111" stroke-width="0.9" stroke-linecap="butt"/>
<text x="24" y="277.75" font-size="7.18" fill="#1c1c1c" stroke="#1c1c1c" stroke-width="0.16" textLength="3.1" lengthAdjust="spacingAndGlyphs">2</text>
<line x1="30.2" y1="295.9" x2="33.6" y2="295.9" stroke="#111" stroke-width="0.9" stroke-linecap="butt"/>
<text x="24" y="298.35" font-size="7.18" fill="#1c1c1c" stroke="#1c1c1c" stroke-width="0.16" textLength="3.1" lengthAdjust="spacingAndGlyphs">1</text>
<line x1="30.2" y1="316.45" x2="33.6" y2="316.45" stroke="#111" stroke-width="0.9" stroke-linecap="butt"/>
<text x="24" y="318.9" font-size="7.18" fill="#1c1c1c" stroke="#1c1c1c" stroke-width="0.16" textLength="3.1" lengthAdjust="spacingAndGlyphs">0</text>
<line x1="32.95" y1="316.45" x2="126.2" y2="316.45" stroke="#111" stroke-width="1.3" stroke-linecap="butt"/>
<text x="67.3" y="246.1" font-size="8.63" fill="#1c1c1c" stroke="#1c1c1c" stroke-width="0.16" textLength="25.2" lengthAdjust="spacingAndGlyphs">week 0</text>
<text x="40.3" y="325.1" font-size="7.18" fill="#1c1c1c" stroke="#1c1c1c" stroke-width="0.16" textLength="9" lengthAdjust="spacingAndGlyphs">PBS</text>
<text x="60.5" y="325.1" font-size="7.18" fill="#1c1c1c" stroke="#1c1c1c" stroke-width="0.16" textLength="14.8" lengthAdjust="spacingAndGlyphs">FLT3L</text>
<text x="86.5" y="325.1" font-size="7.18" fill="#1c1c1c" stroke="#1c1c1c" stroke-width="0.16" textLength="9" lengthAdjust="spacingAndGlyphs">PBS</text>
<text x="106.8" y="325.1" font-size="7.18" fill="#1c1c1c" stroke="#1c1c1c" stroke-width="0.16" textLength="14.8" lengthAdjust="spacingAndGlyphs">FLT3L</text>
<line x1="83.6" y1="329.75" x2="124.1" y2="329.75" stroke="#1c1c1c" stroke-width="0.9" stroke-linecap="butt"/>
<text x="97.1" y="339.8" font-size="9.15" fill="#1c1c1c" stroke="#1c1c1c" stroke-width="0.16" textLength="13.8" lengthAdjust="spacingAndGlyphs">EBV</text>
<circle cx="44.8" cy="300" r="1.45" fill="#4a5169"/>
<circle cx="44.8" cy="306.3" r="1.45" fill="#4a5169"/>
<line x1="37.3" y1="303.2" x2="52.3" y2="303.2" stroke="#1c1c1c" stroke-width="0.9" stroke-linecap="butt"/>
<line x1="40.9" y1="300" x2="48.7" y2="300" stroke="#1c1c1c" stroke-width="0.9" stroke-linecap="butt"/>
<line x1="40.9" y1="306.6" x2="48.7" y2="306.6" stroke="#1c1c1c" stroke-width="0.9" stroke-linecap="butt"/>
<line x1="44.8" y1="300" x2="44.8" y2="306.6" stroke="#1c1c1c" stroke-width="0.9" stroke-linecap="butt"/>
<rect x="66.73" y="293.82" width="2.35" height="2.35" fill="#fff" stroke="#a5132f" stroke-width="0.65"/>
<rect x="66.73" y="299.32" width="2.35" height="2.35" fill="#fff" stroke="#a5132f" stroke-width="0.65"/>
<rect x="66.73" y="308.12" width="2.35" height="2.35" fill="#fff" stroke="#a5132f" stroke-width="0.65"/>
<line x1="60.4" y1="301.2" x2="75.4" y2="301.2" stroke="#1c1c1c" stroke-width="0.9" stroke-linecap="butt"/>
<line x1="64" y1="296.3" x2="71.8" y2="296.3" stroke="#1c1c1c" stroke-width="0.9" stroke-linecap="butt"/>
<line x1="64" y1="305.8" x2="71.8" y2="305.8" stroke="#1c1c1c" stroke-width="0.9" stroke-linecap="butt"/>
<line x1="67.9" y1="296.3" x2="67.9" y2="305.8" stroke="#1c1c1c" stroke-width="0.9" stroke-linecap="butt"/>
<circle cx="91" cy="295" r="1.45" fill="#4a5169"/>
<circle cx="89" cy="303" r="1.45" fill="#4a5169"/>
<circle cx="93" cy="303" r="1.45" fill="#4a5169"/>
<circle cx="91" cy="306.3" r="1.45" fill="#4a5169"/>
<line x1="83.5" y1="302.5" x2="98.5" y2="302.5" stroke="#1c1c1c" stroke-width="0.9" stroke-linecap="butt"/>
<line x1="87.1" y1="300" x2="94.9" y2="300" stroke="#1c1c1c" stroke-width="0.9" stroke-linecap="butt"/>
<line x1="87.1" y1="305" x2="94.9" y2="305" stroke="#1c1c1c" stroke-width="0.9" stroke-linecap="butt"/>
<line x1="91" y1="300" x2="91" y2="305" stroke="#1c1c1c" stroke-width="0.9" stroke-linecap="butt"/>
<line x1="106.7" y1="301.5" x2="121.7" y2="301.5" stroke="#1c1c1c" stroke-width="0.9" stroke-linecap="butt"/>
<line x1="110.3" y1="297.5" x2="118.1" y2="297.5" stroke="#1c1c1c" stroke-width="0.9" stroke-linecap="butt"/>
<line x1="110.3" y1="305.5" x2="118.1" y2="305.5" stroke="#1c1c1c" stroke-width="0.9" stroke-linecap="butt"/>
<line x1="114.2" y1="297.5" x2="114.2" y2="305.5" stroke="#1c1c1c" stroke-width="0.9" stroke-linecap="butt"/>
<rect x="112.9" y="289.5" width="2.6" height="2.6" fill="#a5132f"/>
<rect x="109.9" y="301.7" width="2.6" height="2.6" fill="#a5132f"/>
<rect x="116.1" y="303.7" width="2.6" height="2.6" fill="#a5132f"/>
<rect x="112.9" y="305.7" width="2.6" height="2.6" fill="#a5132f"/>
<line x1="145.3" y1="251.6" x2="145.3" y2="317.1" stroke="#111" stroke-width="1.3" stroke-linecap="butt"/>
<line x1="141.9" y1="254.75" x2="145.3" y2="254.75" stroke="#111" stroke-width="0.9" stroke-linecap="butt"/>
<text x="135.7" y="257.2" font-size="7.18" fill="#1c1c1c" stroke="#1c1c1c" stroke-width="0.16" textLength="3.1" lengthAdjust="spacingAndGlyphs">3</text>
<line x1="141.9" y1="275.3" x2="145.3" y2="275.3" stroke="#111" stroke-width="0.9" stroke-linecap="butt"/>
<text x="135.7" y="277.75" font-size="7.18" fill="#1c1c1c" stroke="#1c1c1c" stroke-width="0.16" textLength="3.1" lengthAdjust="spacingAndGlyphs">2</text>
<line x1="141.9" y1="295.9" x2="145.3" y2="295.9" stroke="#111" stroke-width="0.9" stroke-linecap="butt"/>
<text x="135.7" y="298.35" font-size="7.18" fill="#1c1c1c" stroke="#1c1c1c" stroke-width="0.16" textLength="3.1" lengthAdjust="spacingAndGlyphs">1</text>
<line x1="141.9" y1="316.45" x2="145.3" y2="316.45" stroke="#111" stroke-width="0.9" stroke-linecap="butt"/>
<text x="135.7" y="318.9" font-size="7.18" fill="#1c1c1c" stroke="#1c1c1c" stroke-width="0.16" textLength="3.1" lengthAdjust="spacingAndGlyphs">0</text>
<line x1="144.65" y1="316.45" x2="237.9" y2="316.45" stroke="#111" stroke-width="1.3" stroke-linecap="butt"/>
<text x="179.2" y="246.1" font-size="8.63" fill="#1c1c1c" stroke="#1c1c1c" stroke-width="0.16" textLength="25.1" lengthAdjust="spacingAndGlyphs">week 3</text>
<text x="152" y="325.1" font-size="7.18" fill="#1c1c1c" stroke="#1c1c1c" stroke-width="0.16" textLength="9" lengthAdjust="spacingAndGlyphs">PBS</text>
<text x="172.2" y="325.1" font-size="7.18" fill="#1c1c1c" stroke="#1c1c1c" stroke-width="0.16" textLength="14.8" lengthAdjust="spacingAndGlyphs">FLT3L</text>
<text x="198.2" y="325.1" font-size="7.18" fill="#1c1c1c" stroke="#1c1c1c" stroke-width="0.16" textLength="9" lengthAdjust="spacingAndGlyphs">PBS</text>
<text x="218.5" y="325.1" font-size="7.18" fill="#1c1c1c" stroke="#1c1c1c" stroke-width="0.16" textLength="14.8" lengthAdjust="spacingAndGlyphs">FLT3L</text>
<line x1="195.3" y1="329.75" x2="235.8" y2="329.75" stroke="#1c1c1c" stroke-width="0.9" stroke-linecap="butt"/>
<text x="208.8" y="339.8" font-size="9.15" fill="#1c1c1c" stroke="#1c1c1c" stroke-width="0.16" textLength="13.8" lengthAdjust="spacingAndGlyphs">EBV</text>
<circle cx="156.5" cy="301.2" r="1.45" fill="#4a5169"/>
<circle cx="156.5" cy="306.3" r="1.45" fill="#4a5169"/>
<line x1="149" y1="303.7" x2="164" y2="303.7" stroke="#1c1c1c" stroke-width="0.9" stroke-linecap="butt"/>
<line x1="152.6" y1="301.2" x2="160.4" y2="301.2" stroke="#1c1c1c" stroke-width="0.9" stroke-linecap="butt"/>
<line x1="152.6" y1="306.2" x2="160.4" y2="306.2" stroke="#1c1c1c" stroke-width="0.9" stroke-linecap="butt"/>
<line x1="156.5" y1="301.2" x2="156.5" y2="306.2" stroke="#1c1c1c" stroke-width="0.9" stroke-linecap="butt"/>
<rect x="176.43" y="298.82" width="2.35" height="2.35" fill="#fff" stroke="#a5132f" stroke-width="0.65"/>
<rect x="180.62" y="298.82" width="2.35" height="2.35" fill="#fff" stroke="#a5132f" stroke-width="0.65"/>
<rect x="178.43" y="303.82" width="2.35" height="2.35" fill="#fff" stroke="#a5132f" stroke-width="0.65"/>
<rect x="178.43" y="312.52" width="2.35" height="2.35" fill="#fff" stroke="#a5132f" stroke-width="0.65"/>
<line x1="172.1" y1="304.2" x2="187.1" y2="304.2" stroke="#1c1c1c" stroke-width="0.9" stroke-linecap="butt"/>
<line x1="175.7" y1="300.5" x2="183.5" y2="300.5" stroke="#1c1c1c" stroke-width="0.9" stroke-linecap="butt"/>
<line x1="175.7" y1="308" x2="183.5" y2="308" stroke="#1c1c1c" stroke-width="0.9" stroke-linecap="butt"/>
<line x1="179.6" y1="300.5" x2="179.6" y2="308" stroke="#1c1c1c" stroke-width="0.9" stroke-linecap="butt"/>
<circle cx="202.7" cy="292.5" r="1.45" fill="#4a5169"/>
<circle cx="199.5" cy="305" r="1.45" fill="#4a5169"/>
<circle cx="202.7" cy="302.5" r="1.45" fill="#4a5169"/>
<circle cx="205.9" cy="305.5" r="1.45" fill="#4a5169"/>
<line x1="195.2" y1="301.2" x2="210.2" y2="301.2" stroke="#1c1c1c" stroke-width="0.9" stroke-linecap="butt"/>
<line x1="198.8" y1="298.7" x2="206.6" y2="298.7" stroke="#1c1c1c" stroke-width="0.9" stroke-linecap="butt"/>
<line x1="198.8" y1="304.2" x2="206.6" y2="304.2" stroke="#1c1c1c" stroke-width="0.9" stroke-linecap="butt"/>
<line x1="202.7" y1="298.7" x2="202.7" y2="304.2" stroke="#1c1c1c" stroke-width="0.9" stroke-linecap="butt"/>
<line x1="218.4" y1="305.5" x2="233.4" y2="305.5" stroke="#1c1c1c" stroke-width="0.9" stroke-linecap="butt"/>
<line x1="222" y1="304.2" x2="229.8" y2="304.2" stroke="#1c1c1c" stroke-width="0.9" stroke-linecap="butt"/>
<line x1="222" y1="307" x2="229.8" y2="307" stroke="#1c1c1c" stroke-width="0.9" stroke-linecap="butt"/>
<line x1="225.9" y1="304.2" x2="225.9" y2="307" stroke="#1c1c1c" stroke-width="0.9" stroke-linecap="butt"/>
<rect x="222.6" y="300.4" width="2.6" height="2.6" fill="#a5132f"/>
<rect x="226.1" y="301.9" width="2.6" height="2.6" fill="#a5132f"/>
<rect x="220.8" y="305.4" width="2.6" height="2.6" fill="#a5132f"/>
<rect x="228.1" y="306.2" width="2.6" height="2.6" fill="#a5132f"/>
<rect x="224.4" y="306.9" width="2.6" height="2.6" fill="#a5132f"/>
<line x1="257.1" y1="251.6" x2="257.1" y2="317.1" stroke="#111" stroke-width="1.3" stroke-linecap="butt"/>
<line x1="253.7" y1="254.75" x2="257.1" y2="254.75" stroke="#111" stroke-width="0.9" stroke-linecap="butt"/>
<text x="247.5" y="257.2" font-size="7.18" fill="#1c1c1c" stroke="#1c1c1c" stroke-width="0.16" textLength="3.1" lengthAdjust="spacingAndGlyphs">3</text>
<line x1="253.7" y1="275.3" x2="257.1" y2="275.3" stroke="#111" stroke-width="0.9" stroke-linecap="butt"/>
<text x="247.5" y="277.75" font-size="7.18" fill="#1c1c1c" stroke="#1c1c1c" stroke-width="0.16" textLength="3.1" lengthAdjust="spacingAndGlyphs">2</text>
<line x1="253.7" y1="295.9" x2="257.1" y2="295.9" stroke="#111" stroke-width="0.9" stroke-linecap="butt"/>
<text x="247.5" y="298.35" font-size="7.18" fill="#1c1c1c" stroke="#1c1c1c" stroke-width="0.16" textLength="3.1" lengthAdjust="spacingAndGlyphs">1</text>
<line x1="253.7" y1="316.45" x2="257.1" y2="316.45" stroke="#111" stroke-width="0.9" stroke-linecap="butt"/>
<text x="247.5" y="318.9" font-size="7.18" fill="#1c1c1c" stroke="#1c1c1c" stroke-width="0.16" textLength="3.1" lengthAdjust="spacingAndGlyphs">0</text>
<line x1="256.45" y1="316.45" x2="349.7" y2="316.45" stroke="#111" stroke-width="1.3" stroke-linecap="butt"/>
<text x="290.7" y="246.1" font-size="8.63" fill="#1c1c1c" stroke="#1c1c1c" stroke-width="0.16" textLength="24.8" lengthAdjust="spacingAndGlyphs">week 4</text>
<text x="263.8" y="325.1" font-size="7.18" fill="#1c1c1c" stroke="#1c1c1c" stroke-width="0.16" textLength="9" lengthAdjust="spacingAndGlyphs">PBS</text>
<text x="284" y="325.1" font-size="7.18" fill="#1c1c1c" stroke="#1c1c1c" stroke-width="0.16" textLength="14.8" lengthAdjust="spacingAndGlyphs">FLT3L</text>
<text x="310" y="325.1" font-size="7.18" fill="#1c1c1c" stroke="#1c1c1c" stroke-width="0.16" textLength="9" lengthAdjust="spacingAndGlyphs">PBS</text>
<text x="330.3" y="325.1" font-size="7.18" fill="#1c1c1c" stroke="#1c1c1c" stroke-width="0.16" textLength="14.8" lengthAdjust="spacingAndGlyphs">FLT3L</text>
<line x1="307.1" y1="329.75" x2="347.6" y2="329.75" stroke="#1c1c1c" stroke-width="0.9" stroke-linecap="butt"/>
<text x="320.6" y="339.8" font-size="9.15" fill="#1c1c1c" stroke="#1c1c1c" stroke-width="0.16" textLength="13.8" lengthAdjust="spacingAndGlyphs">EBV</text>
<circle cx="268.3" cy="299.5" r="1.45" fill="#4a5169"/>
<circle cx="268.3" cy="306.3" r="1.45" fill="#4a5169"/>
<line x1="260.8" y1="302.5" x2="275.8" y2="302.5" stroke="#1c1c1c" stroke-width="0.9" stroke-linecap="butt"/>
<line x1="264.4" y1="299.5" x2="272.2" y2="299.5" stroke="#1c1c1c" stroke-width="0.9" stroke-linecap="butt"/>
<line x1="264.4" y1="305.7" x2="272.2" y2="305.7" stroke="#1c1c1c" stroke-width="0.9" stroke-linecap="butt"/>
<line x1="268.3" y1="299.5" x2="268.3" y2="305.7" stroke="#1c1c1c" stroke-width="0.9" stroke-linecap="butt"/>
<rect x="286.53" y="297.52" width="2.35" height="2.35" fill="#fff" stroke="#a5132f" stroke-width="0.65"/>
<rect x="290.23" y="300.52" width="2.35" height="2.35" fill="#fff" stroke="#a5132f" stroke-width="0.65"/>
<rect x="293.93" y="299.32" width="2.35" height="2.35" fill="#fff" stroke="#a5132f" stroke-width="0.65"/>
<line x1="283.9" y1="300.5" x2="298.9" y2="300.5" stroke="#1c1c1c" stroke-width="0.9" stroke-linecap="butt"/>
<line x1="287.5" y1="300" x2="295.3" y2="300" stroke="#1c1c1c" stroke-width="0.9" stroke-linecap="butt"/>
<line x1="287.5" y1="301" x2="295.3" y2="301" stroke="#1c1c1c" stroke-width="0.9" stroke-linecap="butt"/>
<line x1="291.4" y1="300" x2="291.4" y2="301" stroke="#1c1c1c" stroke-width="0.9" stroke-linecap="butt"/>
<circle cx="314.5" cy="263.3" r="1.45" fill="#4a5169"/>
<circle cx="314.5" cy="270" r="1.45" fill="#4a5169"/>
<circle cx="316.5" cy="282.5" r="1.45" fill="#4a5169"/>
<circle cx="312.7" cy="285" r="1.45" fill="#4a5169"/>
<line x1="307" y1="275" x2="322" y2="275" stroke="#1c1c1c" stroke-width="0.9" stroke-linecap="butt"/>
<line x1="310.6" y1="269.5" x2="318.4" y2="269.5" stroke="#1c1c1c" stroke-width="0.9" stroke-linecap="butt"/>
<line x1="310.6" y1="280.7" x2="318.4" y2="280.7" stroke="#1c1c1c" stroke-width="0.9" stroke-linecap="butt"/>
<line x1="314.5" y1="269.5" x2="314.5" y2="280.7" stroke="#1c1c1c" stroke-width="0.9" stroke-linecap="butt"/>
<line x1="330.2" y1="288.2" x2="345.2" y2="288.2" stroke="#1c1c1c" stroke-width="0.9" stroke-linecap="butt"/>
<line x1="333.8" y1="283" x2="341.6" y2="283" stroke="#1c1c1c" stroke-width="0.9" stroke-linecap="butt"/>
<line x1="333.8" y1="294.2" x2="341.6" y2="294.2" stroke="#1c1c1c" stroke-width="0.9" stroke-linecap="butt"/>
<line x1="337.7" y1="283" x2="337.7" y2="294.2" stroke="#1c1c1c" stroke-width="0.9" stroke-linecap="butt"/>
<rect x="336.4" y="272" width="2.6" height="2.6" fill="#a5132f"/>
<rect x="336.4" y="286.7" width="2.6" height="2.6" fill="#a5132f"/>
<rect x="338.2" y="294.9" width="2.6" height="2.6" fill="#a5132f"/>
<rect x="334.4" y="296.2" width="2.6" height="2.6" fill="#a5132f"/>
<line x1="372.55" y1="251.6" x2="372.55" y2="317.1" stroke="#111" stroke-width="1.3" stroke-linecap="butt"/>
<line x1="369.15" y1="254.75" x2="372.55" y2="254.75" stroke="#111" stroke-width="0.9" stroke-linecap="butt"/>
<text x="359.75" y="257.2" font-size="7.18" fill="#1c1c1c" stroke="#1c1c1c" stroke-width="0.16" textLength="6.3" lengthAdjust="spacingAndGlyphs">20</text>
<line x1="369.15" y1="270.2" x2="372.55" y2="270.2" stroke="#111" stroke-width="0.9" stroke-linecap="butt"/>
<text x="359.75" y="272.65" font-size="7.18" fill="#1c1c1c" stroke="#1c1c1c" stroke-width="0.16" textLength="6.3" lengthAdjust="spacingAndGlyphs">15</text>
<line x1="369.15" y1="285.6" x2="372.55" y2="285.6" stroke="#111" stroke-width="0.9" stroke-linecap="butt"/>
<text x="359.75" y="288.05" font-size="7.18" fill="#1c1c1c" stroke="#1c1c1c" stroke-width="0.16" textLength="6.3" lengthAdjust="spacingAndGlyphs">10</text>
<line x1="369.15" y1="301" x2="372.55" y2="301" stroke="#111" stroke-width="0.9" stroke-linecap="butt"/>
<text x="362.95" y="303.45" font-size="7.18" fill="#1c1c1c" stroke="#1c1c1c" stroke-width="0.16" textLength="3.1" lengthAdjust="spacingAndGlyphs">5</text>
<line x1="369.15" y1="316.45" x2="372.55" y2="316.45" stroke="#111" stroke-width="0.9" stroke-linecap="butt"/>
<text x="362.95" y="318.9" font-size="7.18" fill="#1c1c1c" stroke="#1c1c1c" stroke-width="0.16" textLength="3.1" lengthAdjust="spacingAndGlyphs">0</text>
<line x1="371.9" y1="316.45" x2="465.15" y2="316.45" stroke="#111" stroke-width="1.3" stroke-linecap="butt"/>
<text x="406.2" y="246.1" font-size="8.63" fill="#1c1c1c" stroke="#1c1c1c" stroke-width="0.16" textLength="24.3" lengthAdjust="spacingAndGlyphs">week 5</text>
<text x="379.25" y="325.1" font-size="7.18" fill="#1c1c1c" stroke="#1c1c1c" stroke-width="0.16" textLength="9" lengthAdjust="spacingAndGlyphs">PBS</text>
<text x="399.45" y="325.1" font-size="7.18" fill="#1c1c1c" stroke="#1c1c1c" stroke-width="0.16" textLength="14.8" lengthAdjust="spacingAndGlyphs">FLT3L</text>
<text x="425.45" y="325.1" font-size="7.18" fill="#1c1c1c" stroke="#1c1c1c" stroke-width="0.16" textLength="9" lengthAdjust="spacingAndGlyphs">PBS</text>
<text x="445.75" y="325.1" font-size="7.18" fill="#1c1c1c" stroke="#1c1c1c" stroke-width="0.16" textLength="14.8" lengthAdjust="spacingAndGlyphs">FLT3L</text>
<line x1="422.55" y1="329.75" x2="463.05" y2="329.75" stroke="#1c1c1c" stroke-width="0.9" stroke-linecap="butt"/>
<text x="436.05" y="339.8" font-size="9.15" fill="#1c1c1c" stroke="#1c1c1c" stroke-width="0.16" textLength="13.8" lengthAdjust="spacingAndGlyphs">EBV</text>
<circle cx="381.75" cy="313.3" r="1.45" fill="#4a5169"/>
<circle cx="385.55" cy="312.5" r="1.45" fill="#4a5169"/>
<line x1="376.25" y1="313" x2="391.25" y2="313" stroke="#1c1c1c" stroke-width="0.9" stroke-linecap="butt"/>
<line x1="379.85" y1="312.6" x2="387.65" y2="312.6" stroke="#1c1c1c" stroke-width="0.9" stroke-linecap="butt"/>
<line x1="379.85" y1="313.4" x2="387.65" y2="313.4" stroke="#1c1c1c" stroke-width="0.9" stroke-linecap="butt"/>
<line x1="383.75" y1="312.6" x2="383.75" y2="313.4" stroke="#1c1c1c" stroke-width="0.9" stroke-linecap="butt"/>
<rect x="401.88" y="311.32" width="2.35" height="2.35" fill="#fff" stroke="#a5132f" stroke-width="0.65"/>
<rect x="405.68" y="313.02" width="2.35" height="2.35" fill="#fff" stroke="#a5132f" stroke-width="0.65"/>
<rect x="409.48" y="311.32" width="2.35" height="2.35" fill="#fff" stroke="#a5132f" stroke-width="0.65"/>
<line x1="399.35" y1="313.2" x2="414.35" y2="313.2" stroke="#1c1c1c" stroke-width="0.9" stroke-linecap="butt"/>
<line x1="402.95" y1="312.6" x2="410.75" y2="312.6" stroke="#1c1c1c" stroke-width="0.9" stroke-linecap="butt"/>
<line x1="402.95" y1="313.8" x2="410.75" y2="313.8" stroke="#1c1c1c" stroke-width="0.9" stroke-linecap="butt"/>
<line x1="406.85" y1="312.6" x2="406.85" y2="313.8" stroke="#1c1c1c" stroke-width="0.9" stroke-linecap="butt"/>
<circle cx="429.95" cy="266.3" r="1.45" fill="#4a5169"/>
<circle cx="429.95" cy="280" r="1.45" fill="#4a5169"/>
<circle cx="429.95" cy="296" r="1.45" fill="#4a5169"/>
<circle cx="429.95" cy="305" r="1.45" fill="#4a5169"/>
<line x1="422.45" y1="287.5" x2="437.45" y2="287.5" stroke="#1c1c1c" stroke-width="0.9" stroke-linecap="butt"/>
<line x1="426.05" y1="279.2" x2="433.85" y2="279.2" stroke="#1c1c1c" stroke-width="0.9" stroke-linecap="butt"/>
<line x1="426.05" y1="296.2" x2="433.85" y2="296.2" stroke="#1c1c1c" stroke-width="0.9" stroke-linecap="butt"/>
<line x1="429.95" y1="279.2" x2="429.95" y2="296.2" stroke="#1c1c1c" stroke-width="0.9" stroke-linecap="butt"/>
<line x1="445.65" y1="300.8" x2="460.65" y2="300.8" stroke="#1c1c1c" stroke-width="0.9" stroke-linecap="butt"/>
<line x1="449.25" y1="296.2" x2="457.05" y2="296.2" stroke="#1c1c1c" stroke-width="0.9" stroke-linecap="butt"/>
<line x1="449.25" y1="305" x2="457.05" y2="305" stroke="#1c1c1c" stroke-width="0.9" stroke-linecap="butt"/>
<line x1="453.15" y1="296.2" x2="453.15" y2="305" stroke="#1c1c1c" stroke-width="0.9" stroke-linecap="butt"/>
<rect x="451.85" y="288.7" width="2.6" height="2.6" fill="#a5132f"/>
<rect x="451.85" y="297.4" width="2.6" height="2.6" fill="#a5132f"/>
<rect x="453.85" y="304.9" width="2.6" height="2.6" fill="#a5132f"/>
<rect x="450.05" y="306.7" width="2.6" height="2.6" fill="#a5132f"/>
<text transform="translate(14.6 440) rotate(-90)" font-size="8.53" fill="#1c1c1c" stroke="#1c1c1c" stroke-width="0.16" textLength="74.5" lengthAdjust="spacingAndGlyphs">Blood CD8/CD4 ratio</text>
<line x1="33.45" y1="370.4" x2="33.45" y2="435.65" stroke="#111" stroke-width="1.3" stroke-linecap="butt"/>
<line x1="30.05" y1="373.2" x2="33.45" y2="373.2" stroke="#111" stroke-width="0.9" stroke-linecap="butt"/>
<text x="21.25" y="375.65" font-size="7.18" fill="#1c1c1c" stroke="#1c1c1c" stroke-width="0.16" textLength="6.2" lengthAdjust="spacingAndGlyphs">15</text>
<line x1="30.05" y1="393.8" x2="33.45" y2="393.8" stroke="#111" stroke-width="0.9" stroke-linecap="butt"/>
<text x="21.25" y="396.25" font-size="7.18" fill="#1c1c1c" stroke="#1c1c1c" stroke-width="0.16" textLength="6.2" lengthAdjust="spacingAndGlyphs">10</text>
<line x1="30.05" y1="414.4" x2="33.45" y2="414.4" stroke="#111" stroke-width="0.9" stroke-linecap="butt"/>
<text x="24.35" y="416.85" font-size="7.18" fill="#1c1c1c" stroke="#1c1c1c" stroke-width="0.16" textLength="3.1" lengthAdjust="spacingAndGlyphs">5</text>
<line x1="30.05" y1="435" x2="33.45" y2="435" stroke="#111" stroke-width="0.9" stroke-linecap="butt"/>
<text x="24.35" y="437.45" font-size="7.18" fill="#1c1c1c" stroke="#1c1c1c" stroke-width="0.16" textLength="3.1" lengthAdjust="spacingAndGlyphs">0</text>
<line x1="32.8" y1="435" x2="117.5" y2="435" stroke="#111" stroke-width="1.3" stroke-linecap="butt"/>
<line x1="47.6" y1="435" x2="47.6" y2="438.2" stroke="#111" stroke-width="0.8" stroke-linecap="butt"/>
<text transform="translate(50.6 443.8) rotate(-49)" text-anchor="end" font-size="7.18" fill="#1c1c1c" stroke="#1c1c1c" stroke-width="0.16" textLength="8.8" lengthAdjust="spacingAndGlyphs">W0</text>
<line x1="68.95" y1="435" x2="68.95" y2="438.2" stroke="#111" stroke-width="0.8" stroke-linecap="butt"/>
<text transform="translate(71.95 443.8) rotate(-49)" text-anchor="end" font-size="7.18" fill="#1c1c1c" stroke="#1c1c1c" stroke-width="0.16" textLength="8.8" lengthAdjust="spacingAndGlyphs">W3</text>
<line x1="90.3" y1="435" x2="90.3" y2="438.2" stroke="#111" stroke-width="0.8" stroke-linecap="butt"/>
<text transform="translate(93.3 443.8) rotate(-49)" text-anchor="end" font-size="7.18" fill="#1c1c1c" stroke="#1c1c1c" stroke-width="0.16" textLength="8.8" lengthAdjust="spacingAndGlyphs">W4</text>
<line x1="111.65" y1="435" x2="111.65" y2="438.2" stroke="#111" stroke-width="0.8" stroke-linecap="butt"/>
<text transform="translate(114.65 443.8) rotate(-49)" text-anchor="end" font-size="7.18" fill="#1c1c1c" stroke="#1c1c1c" stroke-width="0.16" textLength="8.8" lengthAdjust="spacingAndGlyphs">W5</text>
<line x1="111.65" y1="385" x2="111.65" y2="408.7" stroke="#4a5169" stroke-width="0.85" stroke-linecap="butt"/>
<line x1="109.15" y1="385" x2="114.15" y2="385" stroke="#4a5169" stroke-width="0.85" stroke-linecap="butt"/>
<line x1="109.15" y1="408.7" x2="114.15" y2="408.7" stroke="#4a5169" stroke-width="0.85" stroke-linecap="butt"/>
<line x1="111.65" y1="408.3" x2="111.65" y2="420.5" stroke="#a5132f" stroke-width="0.85" stroke-linecap="butt"/>
<line x1="109.35" y1="408.3" x2="113.95" y2="408.3" stroke="#a5132f" stroke-width="0.85" stroke-linecap="butt"/>
<line x1="109.35" y1="420.5" x2="113.95" y2="420.5" stroke="#a5132f" stroke-width="0.85" stroke-linecap="butt"/>
<polyline points="47.6,432 68.95,432.4 90.3,432 111.65,430.8" fill="none" stroke="#a5132f" stroke-width="0.85"/>
<polyline points="47.6,432 68.95,432.5 90.3,432.5 111.65,430.8" fill="none" stroke="#4a5169" stroke-width="0.85"/>
<polyline points="47.6,432 68.95,432.2 90.3,429.5 111.65,414.3" fill="none" stroke="#a5132f" stroke-width="0.85"/>
<polyline points="47.6,432 68.95,432.5 90.3,427 111.65,397" fill="none" stroke="#4a5169" stroke-width="0.85"/>
<rect x="46.55" y="430.95" width="2.1" height="2.1" fill="none" stroke="#a5132f" stroke-width="0.6"/>
<rect x="67.9" y="431.35" width="2.1" height="2.1" fill="none" stroke="#a5132f" stroke-width="0.6"/>
<rect x="89.25" y="430.95" width="2.1" height="2.1" fill="none" stroke="#a5132f" stroke-width="0.6"/>
<rect x="110.6" y="429.75" width="2.1" height="2.1" fill="none" stroke="#a5132f" stroke-width="0.6"/>
<circle cx="47.6" cy="432" r="1.15" fill="none" stroke="#4a5169" stroke-width="0.6"/>
<circle cx="68.95" cy="432.5" r="1.15" fill="none" stroke="#4a5169" stroke-width="0.6"/>
<circle cx="90.3" cy="432.5" r="1.15" fill="none" stroke="#4a5169" stroke-width="0.6"/>
<circle cx="111.65" cy="430.8" r="1.15" fill="none" stroke="#4a5169" stroke-width="0.6"/>
<rect x="89.1" y="428.3" width="2.4" height="2.4" fill="#a5132f"/>
<rect x="110.45" y="413.1" width="2.4" height="2.4" fill="#a5132f"/>
<circle cx="90.3" cy="427" r="1.25" fill="#4a5169"/>
<circle cx="111.65" cy="397" r="1.25" fill="#4a5169"/>
<rect x="46.4" y="430.8" width="2.4" height="2.4" fill="#a5132f"/>
<circle cx="47.6" cy="432" r="1.25" fill="#4a5169"/>
<circle cx="68.95" cy="432.5" r="1.25" fill="#4a5169"/>
<rect x="67.85" y="431.1" width="2.2" height="2.2" fill="#a5132f"/>
<line x1="36.9" y1="376.4" x2="43.8" y2="376.4" stroke="#4a5169" stroke-width="0.9" stroke-linecap="butt"/>
<circle cx="40.3" cy="376.4" r="1.05" fill="#fff" stroke="#4a5169" stroke-width="0.6"/>
<text x="46.8" y="378.3" font-size="5.3" fill="#4a4a4a" textLength="8.7" lengthAdjust="spacingAndGlyphs">PBS</text>
<line x1="36.9" y1="385.3" x2="43.8" y2="385.3" stroke="#a5132f" stroke-width="0.9" stroke-linecap="butt"/>
<rect x="39.3" y="384.3" width="2" height="2" fill="#fff" stroke="#a5132f" stroke-width="0.6"/>
<text x="46.8" y="387.2" font-size="5.3" fill="#4a4a4a" textLength="12.5" lengthAdjust="spacingAndGlyphs">FLT3L</text>
<line x1="36.9" y1="394.2" x2="43.8" y2="394.2" stroke="#4a5169" stroke-width="0.9" stroke-linecap="butt"/>
<circle cx="40.3" cy="394.2" r="1.3" fill="#4a5169"/>
<text x="46.8" y="396.1" font-size="5.3" fill="#4a4a4a" textLength="9.5" lengthAdjust="spacingAndGlyphs">EBV</text>
<line x1="36.9" y1="403.3" x2="43.8" y2="403.3" stroke="#a5132f" stroke-width="0.9" stroke-linecap="butt"/>
<rect x="39.05" y="402.05" width="2.5" height="2.5" fill="#a5132f"/>
<text x="46.8" y="405.2" font-size="5.3" fill="#4a4a4a" textLength="25" lengthAdjust="spacingAndGlyphs">FLT3L+EBV</text>
<text transform="translate(131.6 441.2) rotate(-90)" font-size="8.53" fill="#1c1c1c" stroke="#1c1c1c" stroke-width="0.16" textLength="77.4" lengthAdjust="spacingAndGlyphs">Spleen CD8/CD4 ratio</text>
<line x1="150.5" y1="370.4" x2="150.5" y2="435.65" stroke="#111" stroke-width="1.3" stroke-linecap="butt"/>
<line x1="147.1" y1="373.2" x2="150.5" y2="373.2" stroke="#111" stroke-width="0.9" stroke-linecap="butt"/>
<text x="137.9" y="375.65" font-size="7.18" fill="#1c1c1c" stroke="#1c1c1c" stroke-width="0.16" textLength="6.2" lengthAdjust="spacingAndGlyphs">15</text>
<line x1="147.1" y1="393.8" x2="150.5" y2="393.8" stroke="#111" stroke-width="0.9" stroke-linecap="butt"/>
<text x="137.9" y="396.25" font-size="7.18" fill="#1c1c1c" stroke="#1c1c1c" stroke-width="0.16" textLength="6.2" lengthAdjust="spacingAndGlyphs">10</text>
<line x1="147.1" y1="414.4" x2="150.5" y2="414.4" stroke="#111" stroke-width="0.9" stroke-linecap="butt"/>
<text x="141" y="416.85" font-size="7.18" fill="#1c1c1c" stroke="#1c1c1c" stroke-width="0.16" textLength="3.1" lengthAdjust="spacingAndGlyphs">5</text>
<line x1="147.1" y1="435" x2="150.5" y2="435" stroke="#111" stroke-width="0.9" stroke-linecap="butt"/>
<text x="141" y="437.45" font-size="7.18" fill="#1c1c1c" stroke="#1c1c1c" stroke-width="0.16" textLength="3.1" lengthAdjust="spacingAndGlyphs">0</text>
<line x1="149.85" y1="435" x2="242.85" y2="435" stroke="#111" stroke-width="1.3" stroke-linecap="butt"/>
<text x="171.2" y="364.6" font-size="8.63" fill="#1c1c1c" stroke="#1c1c1c" stroke-width="0.16" textLength="50.6" lengthAdjust="spacingAndGlyphs">week 5 spleen</text>
<text x="157.2" y="443.9" font-size="7.18" fill="#1c1c1c" stroke="#1c1c1c" stroke-width="0.16" textLength="9" lengthAdjust="spacingAndGlyphs">PBS</text>
<text x="177.4" y="443.9" font-size="7.18" fill="#1c1c1c" stroke="#1c1c1c" stroke-width="0.16" textLength="14.8" lengthAdjust="spacingAndGlyphs">FLT3L</text>
<text x="203.4" y="443.9" font-size="7.18" fill="#1c1c1c" stroke="#1c1c1c" stroke-width="0.16" textLength="9" lengthAdjust="spacingAndGlyphs">PBS</text>
<text x="223.7" y="443.9" font-size="7.18" fill="#1c1c1c" stroke="#1c1c1c" stroke-width="0.16" textLength="14.8" lengthAdjust="spacingAndGlyphs">FLT3L</text>
<line x1="200.5" y1="448.45" x2="241.5" y2="448.45" stroke="#1c1c1c" stroke-width="0.9" stroke-linecap="butt"/>
<text x="214" y="459.1" font-size="9.15" fill="#1c1c1c" stroke="#1c1c1c" stroke-width="0.16" textLength="13.8" lengthAdjust="spacingAndGlyphs">EBV</text>
<circle cx="159.7" cy="430" r="1.45" fill="#4a5169"/>
<circle cx="163.5" cy="429.3" r="1.45" fill="#4a5169"/>
<line x1="154.2" y1="430" x2="169.2" y2="430" stroke="#1c1c1c" stroke-width="0.9" stroke-linecap="butt"/>
<line x1="157.8" y1="429.6" x2="165.6" y2="429.6" stroke="#1c1c1c" stroke-width="0.9" stroke-linecap="butt"/>
<line x1="157.8" y1="430.4" x2="165.6" y2="430.4" stroke="#1c1c1c" stroke-width="0.9" stroke-linecap="butt"/>
<line x1="161.7" y1="429.6" x2="161.7" y2="430.4" stroke="#1c1c1c" stroke-width="0.9" stroke-linecap="butt"/>
<rect x="179.82" y="428.52" width="2.35" height="2.35" fill="#fff" stroke="#a5132f" stroke-width="0.65"/>
<rect x="183.62" y="428.82" width="2.35" height="2.35" fill="#fff" stroke="#a5132f" stroke-width="0.65"/>
<rect x="187.43" y="428.82" width="2.35" height="2.35" fill="#fff" stroke="#a5132f" stroke-width="0.65"/>
<line x1="177.3" y1="429.9" x2="192.3" y2="429.9" stroke="#1c1c1c" stroke-width="0.9" stroke-linecap="butt"/>
<line x1="180.9" y1="429.5" x2="188.7" y2="429.5" stroke="#1c1c1c" stroke-width="0.9" stroke-linecap="butt"/>
<line x1="180.9" y1="430.3" x2="188.7" y2="430.3" stroke="#1c1c1c" stroke-width="0.9" stroke-linecap="butt"/>
<line x1="184.8" y1="429.5" x2="184.8" y2="430.3" stroke="#1c1c1c" stroke-width="0.9" stroke-linecap="butt"/>
<circle cx="207.9" cy="395.8" r="1.45" fill="#4a5169"/>
<circle cx="209.9" cy="411.3" r="1.45" fill="#4a5169"/>
<circle cx="206.1" cy="414.5" r="1.45" fill="#4a5169"/>
<line x1="200.4" y1="406.8" x2="215.4" y2="406.8" stroke="#1c1c1c" stroke-width="0.9" stroke-linecap="butt"/>
<line x1="204" y1="402.5" x2="211.8" y2="402.5" stroke="#1c1c1c" stroke-width="0.9" stroke-linecap="butt"/>
<line x1="204" y1="411.2" x2="211.8" y2="411.2" stroke="#1c1c1c" stroke-width="0.9" stroke-linecap="butt"/>
<line x1="207.9" y1="402.5" x2="207.9" y2="411.2" stroke="#1c1c1c" stroke-width="0.9" stroke-linecap="butt"/>
<line x1="223.6" y1="411.2" x2="238.6" y2="411.2" stroke="#1c1c1c" stroke-width="0.9" stroke-linecap="butt"/>
<line x1="227.2" y1="406.8" x2="235" y2="406.8" stroke="#1c1c1c" stroke-width="0.9" stroke-linecap="butt"/>
<line x1="227.2" y1="415.8" x2="235" y2="415.8" stroke="#1c1c1c" stroke-width="0.9" stroke-linecap="butt"/>
<line x1="231.1" y1="406.8" x2="231.1" y2="415.8" stroke="#1c1c1c" stroke-width="0.9" stroke-linecap="butt"/>
<rect x="229.8" y="400.5" width="2.6" height="2.6" fill="#a5132f"/>
<rect x="229.8" y="406.7" width="2.6" height="2.6" fill="#a5132f"/>
<rect x="227.8" y="416.7" width="2.6" height="2.6" fill="#a5132f"/>
<rect x="231.8" y="416.7" width="2.6" height="2.6" fill="#a5132f"/>
<text transform="translate(254.8 426) rotate(-90)" font-size="8.11" fill="#1c1c1c" stroke="#1c1c1c" stroke-width="0.16" textLength="45" lengthAdjust="spacingAndGlyphs">CD8+ T cells</text>
<text transform="translate(264.6 447) rotate(-90)" font-size="8.11" fill="#1c1c1c" stroke="#1c1c1c" stroke-width="0.16" textLength="89" lengthAdjust="spacingAndGlyphs">(10<tspan font-size="4.84" dy="-2.65">6</tspan><tspan dy="2.65"> per ml whole blood)</tspan></text>
<line x1="285.6" y1="370.8" x2="285.6" y2="435.65" stroke="#111" stroke-width="1.3" stroke-linecap="butt"/>
<line x1="282.2" y1="373.2" x2="285.6" y2="373.2" stroke="#111" stroke-width="0.9" stroke-linecap="butt"/>
<text x="271.2" y="375.65" font-size="7.18" fill="#1c1c1c" stroke="#1c1c1c" stroke-width="0.16" textLength="7.9" lengthAdjust="spacingAndGlyphs">1.0</text>
<line x1="282.2" y1="385.55" x2="285.6" y2="385.55" stroke="#111" stroke-width="0.9" stroke-linecap="butt"/>
<text x="271.2" y="388" font-size="7.18" fill="#1c1c1c" stroke="#1c1c1c" stroke-width="0.16" textLength="7.9" lengthAdjust="spacingAndGlyphs">0.8</text>
<line x1="282.2" y1="397.9" x2="285.6" y2="397.9" stroke="#111" stroke-width="0.9" stroke-linecap="butt"/>
<text x="271.2" y="400.35" font-size="7.18" fill="#1c1c1c" stroke="#1c1c1c" stroke-width="0.16" textLength="7.9" lengthAdjust="spacingAndGlyphs">0.6</text>
<line x1="282.2" y1="410.3" x2="285.6" y2="410.3" stroke="#111" stroke-width="0.9" stroke-linecap="butt"/>
<text x="271.2" y="412.75" font-size="7.18" fill="#1c1c1c" stroke="#1c1c1c" stroke-width="0.16" textLength="7.9" lengthAdjust="spacingAndGlyphs">0.4</text>
<line x1="282.2" y1="422.65" x2="285.6" y2="422.65" stroke="#111" stroke-width="0.9" stroke-linecap="butt"/>
<text x="271.2" y="425.1" font-size="7.18" fill="#1c1c1c" stroke="#1c1c1c" stroke-width="0.16" textLength="7.9" lengthAdjust="spacingAndGlyphs">0.2</text>
<line x1="282.2" y1="435" x2="285.6" y2="435" stroke="#111" stroke-width="0.9" stroke-linecap="butt"/>
<text x="271.2" y="437.45" font-size="7.18" fill="#1c1c1c" stroke="#1c1c1c" stroke-width="0.16" textLength="7.9" lengthAdjust="spacingAndGlyphs">0.0</text>
<text x="302.9" y="364" font-size="8.63" fill="#1c1c1c" stroke="#1c1c1c" stroke-width="0.16" textLength="56.8" lengthAdjust="spacingAndGlyphs">blood total CD8</text>
<text x="292.58" y="443.9" font-size="7.18" fill="#1c1c1c" stroke="#1c1c1c" stroke-width="0.16" textLength="9" lengthAdjust="spacingAndGlyphs">PBS</text>
<text x="312.78" y="443.9" font-size="7.18" fill="#1c1c1c" stroke="#1c1c1c" stroke-width="0.16" textLength="14.8" lengthAdjust="spacingAndGlyphs">FLT3L</text>
<text x="338.78" y="443.9" font-size="7.18" fill="#1c1c1c" stroke="#1c1c1c" stroke-width="0.16" textLength="9" lengthAdjust="spacingAndGlyphs">PBS</text>
<text x="358.98" y="443.9" font-size="7.18" fill="#1c1c1c" stroke="#1c1c1c" stroke-width="0.16" textLength="14.8" lengthAdjust="spacingAndGlyphs">FLT3L</text>
<line x1="335.2" y1="448.45" x2="376.05" y2="448.45" stroke="#1c1c1c" stroke-width="0.9" stroke-linecap="butt"/>
<text x="348.7" y="459.1" font-size="9.15" fill="#1c1c1c" stroke="#1c1c1c" stroke-width="0.16" textLength="14.4" lengthAdjust="spacingAndGlyphs">EBV</text>
<line x1="297.08" y1="430.6" x2="297.08" y2="432.2" stroke="#2a2a2a" stroke-width="0.8" stroke-linecap="butt"/>
<line x1="292.98" y1="430.6" x2="301.18" y2="430.6" stroke="#2a2a2a" stroke-width="0.8" stroke-linecap="butt"/>
<rect x="289.52" y="432.57" width="15.1" height="2.43" fill="#fff" stroke="#4a4e5c" stroke-width="0.75"/>
<line x1="320.18" y1="431.4" x2="320.18" y2="432.6" stroke="#2a2a2a" stroke-width="0.8" stroke-linecap="butt"/>
<line x1="316.08" y1="431.4" x2="324.28" y2="431.4" stroke="#2a2a2a" stroke-width="0.8" stroke-linecap="butt"/>
<rect x="312.62" y="432.97" width="15.1" height="2.03" fill="#fff" stroke="#a5132f" stroke-width="0.75"/>
<line x1="343.28" y1="381.5" x2="343.28" y2="395.4" stroke="#2a2a2a" stroke-width="0.8" stroke-linecap="butt"/>
<line x1="339.18" y1="381.5" x2="347.38" y2="381.5" stroke="#2a2a2a" stroke-width="0.8" stroke-linecap="butt"/>
<rect x="335.72" y="395.77" width="15.1" height="39.23" fill="#666a76" stroke="#4e535f" stroke-width="0.75"/>
<line x1="366.38" y1="419.9" x2="366.38" y2="424.2" stroke="#2a2a2a" stroke-width="0.8" stroke-linecap="butt"/>
<line x1="362.28" y1="419.9" x2="370.48" y2="419.9" stroke="#2a2a2a" stroke-width="0.8" stroke-linecap="butt"/>
<rect x="358.82" y="424.57" width="15.1" height="10.43" fill="#9f3146" stroke="#a3243c" stroke-width="0.75"/>
<line x1="284.95" y1="435" x2="377.8" y2="435" stroke="#111" stroke-width="1.3" stroke-linecap="butt"/>
<text transform="translate(389.8 426) rotate(-90)" font-size="8.11" fill="#1c1c1c" stroke="#1c1c1c" stroke-width="0.16" textLength="45" lengthAdjust="spacingAndGlyphs">CD4+ T cells</text>
<text transform="translate(399.6 447) rotate(-90)" font-size="8.11" fill="#1c1c1c" stroke="#1c1c1c" stroke-width="0.16" textLength="89" lengthAdjust="spacingAndGlyphs">(10<tspan font-size="4.84" dy="-2.65">6</tspan><tspan dy="2.65"> per ml whole blood)</tspan></text>
<line x1="420.65" y1="370.8" x2="420.65" y2="435.65" stroke="#111" stroke-width="1.3" stroke-linecap="butt"/>
<line x1="417.25" y1="373.2" x2="420.65" y2="373.2" stroke="#111" stroke-width="0.9" stroke-linecap="butt"/>
<text x="406.25" y="375.65" font-size="7.18" fill="#1c1c1c" stroke="#1c1c1c" stroke-width="0.16" textLength="7.9" lengthAdjust="spacingAndGlyphs">1.0</text>
<line x1="417.25" y1="385.55" x2="420.65" y2="385.55" stroke="#111" stroke-width="0.9" stroke-linecap="butt"/>
<text x="406.25" y="388" font-size="7.18" fill="#1c1c1c" stroke="#1c1c1c" stroke-width="0.16" textLength="7.9" lengthAdjust="spacingAndGlyphs">0.8</text>
<line x1="417.25" y1="397.9" x2="420.65" y2="397.9" stroke="#111" stroke-width="0.9" stroke-linecap="butt"/>
<text x="406.25" y="400.35" font-size="7.18" fill="#1c1c1c" stroke="#1c1c1c" stroke-width="0.16" textLength="7.9" lengthAdjust="spacingAndGlyphs">0.6</text>
<line x1="417.25" y1="410.3" x2="420.65" y2="410.3" stroke="#111" stroke-width="0.9" stroke-linecap="butt"/>
<text x="406.25" y="412.75" font-size="7.18" fill="#1c1c1c" stroke="#1c1c1c" stroke-width="0.16" textLength="7.9" lengthAdjust="spacingAndGlyphs">0.4</text>
<line x1="417.25" y1="422.65" x2="420.65" y2="422.65" stroke="#111" stroke-width="0.9" stroke-linecap="butt"/>
<text x="406.25" y="425.1" font-size="7.18" fill="#1c1c1c" stroke="#1c1c1c" stroke-width="0.16" textLength="7.9" lengthAdjust="spacingAndGlyphs">0.2</text>
<line x1="417.25" y1="435" x2="420.65" y2="435" stroke="#111" stroke-width="0.9" stroke-linecap="butt"/>
<text x="406.25" y="437.45" font-size="7.18" fill="#1c1c1c" stroke="#1c1c1c" stroke-width="0.16" textLength="7.9" lengthAdjust="spacingAndGlyphs">0.0</text>
<text x="438.4" y="364" font-size="8.63" fill="#1c1c1c" stroke="#1c1c1c" stroke-width="0.16" textLength="56.5" lengthAdjust="spacingAndGlyphs">blood total CD4</text>
<text x="427.57" y="443.9" font-size="7.18" fill="#1c1c1c" stroke="#1c1c1c" stroke-width="0.16" textLength="9" lengthAdjust="spacingAndGlyphs">PBS</text>
<text x="447.78" y="443.9" font-size="7.18" fill="#1c1c1c" stroke="#1c1c1c" stroke-width="0.16" textLength="14.8" lengthAdjust="spacingAndGlyphs">FLT3L</text>
<text x="473.77" y="443.9" font-size="7.18" fill="#1c1c1c" stroke="#1c1c1c" stroke-width="0.16" textLength="9" lengthAdjust="spacingAndGlyphs">PBS</text>
<text x="493.98" y="443.9" font-size="7.18" fill="#1c1c1c" stroke="#1c1c1c" stroke-width="0.16" textLength="14.8" lengthAdjust="spacingAndGlyphs">FLT3L</text>
<line x1="470.15" y1="448.45" x2="511.25" y2="448.45" stroke="#1c1c1c" stroke-width="0.9" stroke-linecap="butt"/>
<text x="483.65" y="459.1" font-size="9.15" fill="#1c1c1c" stroke="#1c1c1c" stroke-width="0.16" textLength="14.4" lengthAdjust="spacingAndGlyphs">EBV</text>
<line x1="432.07" y1="431" x2="432.07" y2="432.2" stroke="#2a2a2a" stroke-width="0.8" stroke-linecap="butt"/>
<line x1="427.97" y1="431" x2="436.18" y2="431" stroke="#2a2a2a" stroke-width="0.8" stroke-linecap="butt"/>
<rect x="424.52" y="432.57" width="15.1" height="2.43" fill="#fff" stroke="#4a4e5c" stroke-width="0.75"/>
<line x1="455.18" y1="429.4" x2="455.18" y2="432.5" stroke="#2a2a2a" stroke-width="0.8" stroke-linecap="butt"/>
<line x1="451.07" y1="429.4" x2="459.28" y2="429.4" stroke="#2a2a2a" stroke-width="0.8" stroke-linecap="butt"/>
<rect x="447.62" y="432.87" width="15.1" height="2.13" fill="#fff" stroke="#a5132f" stroke-width="0.75"/>
<line x1="478.27" y1="420.5" x2="478.27" y2="425.7" stroke="#2a2a2a" stroke-width="0.8" stroke-linecap="butt"/>
<line x1="474.17" y1="420.5" x2="482.38" y2="420.5" stroke="#2a2a2a" stroke-width="0.8" stroke-linecap="butt"/>
<rect x="470.72" y="426.07" width="15.1" height="8.93" fill="#666a76" stroke="#4e535f" stroke-width="0.75"/>
<line x1="501.38" y1="430.5" x2="501.38" y2="431.6" stroke="#2a2a2a" stroke-width="0.8" stroke-linecap="butt"/>
<line x1="497.27" y1="430.5" x2="505.48" y2="430.5" stroke="#2a2a2a" stroke-width="0.8" stroke-linecap="butt"/>
<rect x="493.82" y="431.97" width="15.1" height="3.03" fill="#9f3146" stroke="#a3243c" stroke-width="0.75"/>
<line x1="420" y1="435" x2="512.85" y2="435" stroke="#111" stroke-width="1.3" stroke-linecap="butt"/>
<text transform="translate(14.6 572.5) rotate(-90)" font-size="8.11" fill="#1c1c1c" stroke="#1c1c1c" stroke-width="0.16" textLength="101.2" lengthAdjust="spacingAndGlyphs">CD8+ T cells (10<tspan font-size="4.84" dy="-2.65">6</tspan><tspan dy="2.65"> per spleen)</tspan></text>
<line x1="33.7" y1="489.2" x2="33.7" y2="554.45" stroke="#111" stroke-width="1.3" stroke-linecap="butt"/>
<line x1="30.3" y1="492.2" x2="33.7" y2="492.2" stroke="#111" stroke-width="0.9" stroke-linecap="butt"/>
<text x="21.2" y="494.65" font-size="7.18" fill="#1c1c1c" stroke="#1c1c1c" stroke-width="0.16" textLength="6.3" lengthAdjust="spacingAndGlyphs">20</text>
<line x1="30.3" y1="507.6" x2="33.7" y2="507.6" stroke="#111" stroke-width="0.9" stroke-linecap="butt"/>
<text x="21.2" y="510.05" font-size="7.18" fill="#1c1c1c" stroke="#1c1c1c" stroke-width="0.16" textLength="6.3" lengthAdjust="spacingAndGlyphs">15</text>
<line x1="30.3" y1="523" x2="33.7" y2="523" stroke="#111" stroke-width="0.9" stroke-linecap="butt"/>
<text x="21.2" y="525.45" font-size="7.18" fill="#1c1c1c" stroke="#1c1c1c" stroke-width="0.16" textLength="6.3" lengthAdjust="spacingAndGlyphs">10</text>
<line x1="30.3" y1="538.4" x2="33.7" y2="538.4" stroke="#111" stroke-width="0.9" stroke-linecap="butt"/>
<text x="24.4" y="540.85" font-size="7.18" fill="#1c1c1c" stroke="#1c1c1c" stroke-width="0.16" textLength="3.1" lengthAdjust="spacingAndGlyphs">5</text>
<line x1="30.3" y1="553.8" x2="33.7" y2="553.8" stroke="#111" stroke-width="0.9" stroke-linecap="butt"/>
<text x="24.4" y="556.25" font-size="7.18" fill="#1c1c1c" stroke="#1c1c1c" stroke-width="0.16" textLength="3.1" lengthAdjust="spacingAndGlyphs">0</text>
<text x="46.3" y="483.2" font-size="8.63" fill="#1c1c1c" stroke="#1c1c1c" stroke-width="0.16" textLength="56.7" lengthAdjust="spacingAndGlyphs">spleen total CD8</text>
<text x="40.7" y="562.7" font-size="7.18" fill="#1c1c1c" stroke="#1c1c1c" stroke-width="0.16" textLength="9" lengthAdjust="spacingAndGlyphs">PBS</text>
<text x="58" y="562.7" font-size="7.18" fill="#1c1c1c" stroke="#1c1c1c" stroke-width="0.16" textLength="14.8" lengthAdjust="spacingAndGlyphs">FLT3L</text>
<text x="81.1" y="562.7" font-size="7.18" fill="#1c1c1c" stroke="#1c1c1c" stroke-width="0.16" textLength="9" lengthAdjust="spacingAndGlyphs">PBS</text>
<text x="98.4" y="562.7" font-size="7.18" fill="#1c1c1c" stroke="#1c1c1c" stroke-width="0.16" textLength="14.8" lengthAdjust="spacingAndGlyphs">FLT3L</text>
<line x1="78.1" y1="567.15" x2="116.15" y2="567.15" stroke="#1c1c1c" stroke-width="0.9" stroke-linecap="butt"/>
<text x="89.7" y="577.9" font-size="9.26" fill="#1c1c1c" stroke="#1c1c1c" stroke-width="0.16" textLength="14.4" lengthAdjust="spacingAndGlyphs">EBV</text>
<line x1="45.2" y1="547.4" x2="45.2" y2="550.2" stroke="#2a2a2a" stroke-width="0.8" stroke-linecap="butt"/>
<line x1="41.1" y1="547.4" x2="49.3" y2="547.4" stroke="#2a2a2a" stroke-width="0.8" stroke-linecap="butt"/>
<rect x="37.47" y="550.57" width="15.45" height="3.23" fill="#fff" stroke="#4a4e5c" stroke-width="0.75"/>
<line x1="65.4" y1="548.5" x2="65.4" y2="550.3" stroke="#2a2a2a" stroke-width="0.8" stroke-linecap="butt"/>
<line x1="61.3" y1="548.5" x2="69.5" y2="548.5" stroke="#2a2a2a" stroke-width="0.8" stroke-linecap="butt"/>
<rect x="57.67" y="550.67" width="15.45" height="3.13" fill="#fff" stroke="#a5132f" stroke-width="0.75"/>
<line x1="85.6" y1="500.8" x2="85.6" y2="510.8" stroke="#2a2a2a" stroke-width="0.8" stroke-linecap="butt"/>
<line x1="81.5" y1="500.8" x2="89.7" y2="500.8" stroke="#2a2a2a" stroke-width="0.8" stroke-linecap="butt"/>
<rect x="77.87" y="511.17" width="15.45" height="42.63" fill="#666a76" stroke="#4e535f" stroke-width="0.75"/>
<line x1="105.8" y1="526.3" x2="105.8" y2="529.3" stroke="#2a2a2a" stroke-width="0.8" stroke-linecap="butt"/>
<line x1="101.7" y1="526.3" x2="109.9" y2="526.3" stroke="#2a2a2a" stroke-width="0.8" stroke-linecap="butt"/>
<rect x="98.07" y="529.67" width="15.45" height="24.13" fill="#9f3146" stroke="#a3243c" stroke-width="0.75"/>
<line x1="33.05" y1="553.8" x2="118" y2="553.8" stroke="#111" stroke-width="1.3" stroke-linecap="butt"/>
<text transform="translate(131.3 572.5) rotate(-90)" font-size="8.11" fill="#1c1c1c" stroke="#1c1c1c" stroke-width="0.16" textLength="101.2" lengthAdjust="spacingAndGlyphs">CD4+ T cells (10<tspan font-size="4.84" dy="-2.65">6</tspan><tspan dy="2.65"> per spleen)</tspan></text>
<line x1="150.3" y1="489.2" x2="150.3" y2="554.45" stroke="#111" stroke-width="1.3" stroke-linecap="butt"/>
<line x1="146.9" y1="492.2" x2="150.3" y2="492.2" stroke="#111" stroke-width="0.9" stroke-linecap="butt"/>
<text x="137.8" y="494.65" font-size="7.18" fill="#1c1c1c" stroke="#1c1c1c" stroke-width="0.16" textLength="6.3" lengthAdjust="spacingAndGlyphs">20</text>
<line x1="146.9" y1="507.6" x2="150.3" y2="507.6" stroke="#111" stroke-width="0.9" stroke-linecap="butt"/>
<text x="137.8" y="510.05" font-size="7.18" fill="#1c1c1c" stroke="#1c1c1c" stroke-width="0.16" textLength="6.3" lengthAdjust="spacingAndGlyphs">15</text>
<line x1="146.9" y1="523" x2="150.3" y2="523" stroke="#111" stroke-width="0.9" stroke-linecap="butt"/>
<text x="137.8" y="525.45" font-size="7.18" fill="#1c1c1c" stroke="#1c1c1c" stroke-width="0.16" textLength="6.3" lengthAdjust="spacingAndGlyphs">10</text>
<line x1="146.9" y1="538.4" x2="150.3" y2="538.4" stroke="#111" stroke-width="0.9" stroke-linecap="butt"/>
<text x="141" y="540.85" font-size="7.18" fill="#1c1c1c" stroke="#1c1c1c" stroke-width="0.16" textLength="3.1" lengthAdjust="spacingAndGlyphs">5</text>
<line x1="146.9" y1="553.8" x2="150.3" y2="553.8" stroke="#111" stroke-width="0.9" stroke-linecap="butt"/>
<text x="141" y="556.25" font-size="7.18" fill="#1c1c1c" stroke="#1c1c1c" stroke-width="0.16" textLength="3.1" lengthAdjust="spacingAndGlyphs">0</text>
<text x="163" y="483.2" font-size="8.63" fill="#1c1c1c" stroke="#1c1c1c" stroke-width="0.16" textLength="57" lengthAdjust="spacingAndGlyphs">spleen total CD4</text>
<text x="157.3" y="562.7" font-size="7.18" fill="#1c1c1c" stroke="#1c1c1c" stroke-width="0.16" textLength="9" lengthAdjust="spacingAndGlyphs">PBS</text>
<text x="174.6" y="562.7" font-size="7.18" fill="#1c1c1c" stroke="#1c1c1c" stroke-width="0.16" textLength="14.8" lengthAdjust="spacingAndGlyphs">FLT3L</text>
<text x="197.7" y="562.7" font-size="7.18" fill="#1c1c1c" stroke="#1c1c1c" stroke-width="0.16" textLength="9" lengthAdjust="spacingAndGlyphs">PBS</text>
<text x="215" y="562.7" font-size="7.18" fill="#1c1c1c" stroke="#1c1c1c" stroke-width="0.16" textLength="14.8" lengthAdjust="spacingAndGlyphs">FLT3L</text>
<line x1="194.7" y1="567.15" x2="232.75" y2="567.15" stroke="#1c1c1c" stroke-width="0.9" stroke-linecap="butt"/>
<text x="206.3" y="577.9" font-size="9.26" fill="#1c1c1c" stroke="#1c1c1c" stroke-width="0.16" textLength="14.4" lengthAdjust="spacingAndGlyphs">EBV</text>
<line x1="162.1" y1="548.6" x2="162.1" y2="550.6" stroke="#2a2a2a" stroke-width="0.8" stroke-linecap="butt"/>
<line x1="158" y1="548.6" x2="166.2" y2="548.6" stroke="#2a2a2a" stroke-width="0.8" stroke-linecap="butt"/>
<rect x="154.37" y="550.97" width="15.45" height="2.83" fill="#fff" stroke="#4a4e5c" stroke-width="0.75"/>
<line x1="182.3" y1="549.2" x2="182.3" y2="550.7" stroke="#2a2a2a" stroke-width="0.8" stroke-linecap="butt"/>
<line x1="178.2" y1="549.2" x2="186.4" y2="549.2" stroke="#2a2a2a" stroke-width="0.8" stroke-linecap="butt"/>
<rect x="174.57" y="551.07" width="15.45" height="2.73" fill="#fff" stroke="#a5132f" stroke-width="0.75"/>
<line x1="202.5" y1="545.5" x2="202.5" y2="547.6" stroke="#2a2a2a" stroke-width="0.8" stroke-linecap="butt"/>
<line x1="198.4" y1="545.5" x2="206.6" y2="545.5" stroke="#2a2a2a" stroke-width="0.8" stroke-linecap="butt"/>
<rect x="194.77" y="547.97" width="15.45" height="5.83" fill="#666a76" stroke="#4e535f" stroke-width="0.75"/>
<line x1="222.7" y1="549.3" x2="222.7" y2="550.4" stroke="#2a2a2a" stroke-width="0.8" stroke-linecap="butt"/>
<line x1="218.6" y1="549.3" x2="226.8" y2="549.3" stroke="#2a2a2a" stroke-width="0.8" stroke-linecap="butt"/>
<rect x="214.97" y="550.77" width="15.45" height="3.03" fill="#9f3146" stroke="#a3243c" stroke-width="0.75"/>
<line x1="149.65" y1="553.8" x2="234.6" y2="553.8" stroke="#111" stroke-width="1.3" stroke-linecap="butt"/>
</svg>
</body></html>
